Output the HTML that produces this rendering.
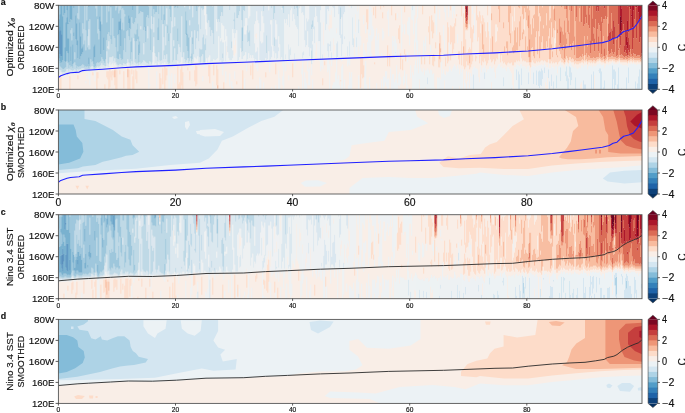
<!DOCTYPE html><html><head><meta charset="utf-8"><style>html,body{margin:0;padding:0;background:#fff;width:685px;height:413px;overflow:hidden}svg{display:block;will-change:transform}text{font-family:"Liberation Sans",sans-serif;fill:#111;stroke:#111;stroke-width:0.16px}</style></head><body>
<svg width="685" height="413" viewBox="0 0 685 413">
<defs>
<clipPath id="cp0"><rect x="58.4" y="5.3" width="583.6" height="84"/></clipPath>
<clipPath id="cp1"><rect x="58.4" y="110" width="583.6" height="84"/></clipPath>
<clipPath id="cp2"><rect x="58.4" y="214.7" width="583.6" height="84"/></clipPath>
<clipPath id="cp3"><rect x="58.4" y="319.4" width="583.6" height="84"/></clipPath>
</defs>
<g clip-path="url(#cp0)">
<rect x="58.4" y="5.3" width="583.6" height="84" fill="#f9eee7"/>
<g transform="translate(58.40 5.30) scale(0.99932 1)" shape-rendering="crispEdges">
<rect x="0" y="0" width="584" height="84" fill="#f9eee7"/>
<path transform="translate(.5 0)" stroke="#3480b9" stroke-width="1" fill="none" d="M0 26v17M1 21v28M2 25v26M3 29v22"/>
<path transform="translate(.5 0)" stroke="#529dc8" stroke-width="1" fill="none" d="M0 14v12M0 43v10M1 9v12M1 49v7M2 0v25M2 51v7M3 0v29M3 51v6M4 11v44M5 0v10M6 0v8M6 42v14M7 17v40M8 0v5M8 12v34M9 0v19M9 33v15M10 18v1M10 33v24M11 0v17M12 0v14M12 41v15M13 0v15M14 39v20M15 0v3M15 27v4M17 10v24M18 18v22M19 35v18M21 17v37M22 31v20M23 43v6M24 41v6M30 0v2M30 52v7M35 41v18M36 39v13M41 11v15M42 16v33M45 32v13M60 16v13M61 16v9M62 13v28M70 10v8M71 13v10M74 0v5M80 39v11M87 21v5M128 28v2"/>
<path transform="translate(.5 0)" stroke="#84bcd9" stroke-width="1" fill="none" d="M0 0v14M0 53v5M1 0v9M1 56v5M2 58v4M3 57v6M4 0v11M4 55v9M5 10v54M6 8v34M6 56v7M7 0v17M7 57v5M8 5v7M8 46v10M9 19v14M9 48v10M10 0v18M10 19v14M10 57v6M11 17v43M12 14v11M12 28v13M12 56v6M13 15v8M13 35v26M14 0v39M14 59v4M15 3v24M15 31v27M16 0v47M16 54v3M17 0v10M17 34v26M18 0v18M18 40v23M19 0v8M19 13v22M19 53v8M20 14v48M21 0v17M21 54v7M22 0v31M22 51v10M23 0v43M23 49v11M24 0v18M24 28v13M24 47v12M25 0v24M25 39v21M26 35v27M27 0v25M27 45v16M28 15v47M29 1v30M29 42v19M30 2v14M30 44v8M30 59v4M31 0v14M31 44v17M32 0v54M33 0v57M34 0v56M35 0v41M35 59v3M36 0v39M36 52v10M37 3v58M38 11v47M39 0v14M39 28v29M40 0v24M40 34v24M41 0v11M41 26v31M42 0v16M42 49v7M43 19v33M44 0v54M45 0v32M45 45v11M46 0v58M47 0v54M48 17v18M49 0v29M50 6v21M51 0v31M52 0v2M52 30v4M53 0v39M54 0v13M55 0v31M56 0v33M57 5v37M58 2v51M59 0v30M59 46v8M60 8v8M60 29v25M61 5v11M61 25v24M62 4v9M62 41v12M63 0v4M63 24v31M64 0v3M64 17v37M65 0v5M65 25v20M66 0v9M66 11v22M67 0v47M68 0v26M69 0v25M70 0v10M70 18v13M71 0v13M71 23v12M72 0v24M72 36v18M73 0v12M73 32v15M74 5v13M75 0v19M76 0v17M76 28v8M77 0v13M77 29v25M78 24v12M79 18v16M80 0v9M80 31v8M80 50v7M81 0v8M81 36v12M82 0v6M83 0v7M84 0v7M85 0v25M86 0v22M87 0v21M87 26v11M88 0v12M89 0v10M90 1v12M92 23v22M94 0v19M95 0v4M96 0v9M97 0v7M98 0v7M99 22v13M100 0v9M100 13v22M103 0v15M105 9v10M106 0v15M109 20v8M110 28v8M111 0v4M112 0v12M116 0v3M117 0v2M119 0v3M119 23v13M127 6v23M128 15v13M128 30v11M129 29v17M130 32v21M133 48v8M134 32v7M138 0v6M184 22v14"/>
<path transform="translate(.5 0)" stroke="#aed3e6" stroke-width="1" fill="none" d="M0 58v7M1 61v4M2 62v3M3 63v4M4 64v3M5 64v3M6 63v4M7 62v4M8 56v8M9 58v6M10 63v3M11 60v4M12 25v3M12 62v3M13 23v12M13 61v4M14 63v3M15 58v7M16 47v7M16 57v7M17 60v5M18 63v3M19 8v5M19 61v3M20 0v14M20 62v3M21 61v3M22 61v3M23 60v3M24 18v10M24 59v4M25 24v15M25 60v3M26 0v35M26 62v2M27 25v20M27 61v3M28 0v15M28 62v2M29 0v1M29 31v11M29 61v3M30 16v8M30 40v4M30 63v2M31 14v30M31 61v3M32 54v8M33 57v4M34 56v5M35 62v2M36 62v2M37 0v3M37 61v2M38 0v11M38 58v4M39 14v14M39 57v4M40 24v10M40 58v4M41 57v4M42 56v4M43 0v19M43 52v6M44 54v6M45 56v4M46 58v3M47 54v7M48 0v17M48 35v11M49 29v12M49 43v15M50 0v6M50 27v9M50 44v15M51 31v21M52 2v28M52 34v18M53 39v13M54 13v38M55 31v25M56 33v20M57 0v5M57 42v15M58 0v2M58 53v6M59 30v16M59 54v6M60 0v8M60 54v6M61 0v5M61 49v10M62 0v4M62 53v6M63 4v20M63 55v5M64 3v14M64 54v6M65 5v20M65 45v13M66 9v2M66 33v26M67 47v12M68 26v32M69 25v29M70 31v26M71 35v23M72 24v12M72 54v6M73 12v20M73 47v9M74 18v41M75 19v14M76 17v11M76 36v21M77 13v16M77 54v4M78 0v24M78 36v23M79 0v18M79 34v24M80 9v22M80 57v3M81 8v28M81 48v9M82 6v15M82 24v35M83 7v51M84 7v50M85 25v13M85 49v6M86 22v34M87 37v20M88 12v46M89 10v11M89 33v25M90 0v1M90 13v46M91 0v56M92 0v23M92 45v12M93 0v11M93 24v35M94 19v28M95 4v8M95 27v5M96 9v39M97 7v44M98 7v45M99 0v22M99 35v21M100 9v4M100 35v12M101 0v55M102 0v56M103 15v40M104 0v19M105 0v9M105 19v13M105 45v9M106 15v35M107 0v21M107 40v14M108 0v3M108 19v30M109 0v20M109 28v29M110 0v28M110 36v23M111 4v54M112 12v16M113 0v16M114 22v35M115 0v35M115 41v14M116 3v9M116 21v22M117 2v53M118 0v55M119 3v20M119 36v13M120 0v39M121 0v42M122 0v47M123 0v11M124 0v52M125 0v47M126 2v52M127 0v6M127 29v28M128 0v15M128 41v14M129 0v29M129 46v7M130 0v32M130 53v5M131 4v11M131 20v36M132 0v32M132 51v2M133 0v26M133 32v16M133 56v2M134 12v20M134 39v15M135 0v49M136 0v25M137 0v44M138 6v27M139 0v26M140 0v2M140 19v17M141 0v1M141 43v9M142 0v24M142 44v13M143 0v3M143 44v7M144 0v5M144 32v17M145 0v4M145 29v28M146 39v18M147 33v12M148 0v9M149 0v18M150 0v15M151 0v22M152 0v31M153 0v25M154 1v27M155 0v39M159 0v17M160 0v14M161 0v17M162 0v11M163 0v7M164 0v11M164 48v5M168 0v1M171 0v5M173 36v7M174 0v1M175 0v1M175 14v2M176 7v17M178 0v13M179 0v13M180 0v10M181 0v6M182 0v1M183 0v15M183 22v25M184 0v22M184 36v10M185 0v5M186 0v6M188 0v1M189 20v17M190 27v9M191 25v16M193 0v1M205 0v6M208 30v18M213 0v3M215 0v14M216 0v8M216 32v9M224 0v3M225 0v8M236 0v4M238 0v3M239 0v11M253 19v5M253 45v9M254 15v7M282 2v12"/>
<path transform="translate(.5 0)" stroke="#d4e6f1" stroke-width="1" fill="none" d="M0 65v5M1 65v4M2 65v2M3 67v2M4 67v3M5 67v3M6 67v2M7 66v2M8 64v4M9 64v3M10 66v2M11 64v3M12 65v2M13 65v2M14 66v1M15 65v2M16 64v3M17 65v2M18 66v2M19 64v2M20 65v2M21 64v2M22 64v2M23 63v2M24 63v2M25 63v2M26 64v2M27 64v2M28 64v2M29 64v1M30 24v16M30 65v1M31 64v2M32 62v2M33 61v3M34 61v3M35 64v1M36 64v1M37 63v2M38 62v2M39 61v2M40 62v2M41 61v3M42 60v3M43 58v4M44 60v3M45 60v3M46 61v2M47 61v2M48 46v15M49 41v2M49 58v4M50 36v8M50 59v3M51 52v5M52 52v8M53 52v7M54 51v7M55 56v4M56 53v5M57 57v3M58 59v2M59 60v2M60 60v2M61 59v2M62 59v3M63 60v2M64 60v2M65 58v3M66 59v2M67 59v2M68 58v3M69 54v4M70 57v3M71 58v3M72 60v2M73 56v4M74 59v2M75 33v27M76 57v3M77 58v3M78 59v2M79 58v3M80 60v1M81 57v3M82 21v3M82 59v2M83 58v3M84 57v3M85 38v11M85 55v5M86 56v4M87 57v3M88 58v3M89 21v12M89 58v3M90 59v2M91 56v4M92 57v3M93 11v13M93 59v2M94 47v10M95 12v15M95 32v9M96 48v11M97 51v7M98 52v8M99 56v4M100 47v10M101 55v4M102 56v4M103 55v4M104 19v39M105 32v13M105 54v5M106 50v7M107 21v19M107 54v5M108 3v16M108 49v10M109 57v3M110 59v2M111 58v2M112 28v31M113 16v43M114 0v22M114 57v3M115 35v6M115 55v4M116 12v9M116 43v16M117 55v4M118 55v4M119 49v7M120 39v19M121 42v16M122 47v10M123 11v41M124 52v6M125 47v11M126 0v2M126 54v4M127 57v2M128 55v3M129 53v5M130 58v1M131 0v4M131 15v5M131 56v2M132 32v19M132 53v5M133 26v6M133 58v2M134 0v12M134 54v4M135 49v8M136 25v27M137 44v9M138 33v21M139 26v25M140 2v17M140 36v21M141 1v42M141 52v6M142 24v20M142 57v2M143 3v41M143 51v6M144 5v27M144 49v9M145 4v25M145 57v2M146 10v29M146 57v2M147 24v9M147 45v12M148 9v8M148 30v23M149 18v39M150 15v37M151 22v28M152 31v26M153 25v31M154 0v1M154 28v28M155 39v15M156 0v55M157 0v55M158 0v14M158 26v28M159 17v36M160 14v17M161 17v39M162 11v22M162 36v19M163 7v11M163 34v23M164 11v9M164 37v11M164 53v5M165 0v21M165 37v19M166 0v35M167 0v24M167 36v20M168 1v30M169 0v47M170 0v53M171 5v50M172 0v55M173 0v36M173 43v12M174 1v23M174 45v8M175 1v13M175 16v12M176 0v7M176 24v9M177 0v28M178 13v12M179 13v43M180 10v45M181 6v46M182 1v42M183 15v7M183 47v7M184 46v8M185 5v46M186 6v15M186 29v21M187 0v13M187 29v18M188 1v12M188 25v31M189 0v20M189 37v17M190 13v14M190 36v12M191 11v14M191 41v12M192 0v50M193 1v52M194 0v50M195 0v53M196 0v19M196 38v18M197 0v16M197 47v7M198 0v6M198 46v10M199 0v15M199 42v14M200 0v18M201 0v55M202 0v26M202 36v19M203 0v6M203 38v18M204 0v11M204 37v18M205 6v12M205 27v28M206 0v55M207 1v52M208 0v30M208 48v7M209 0v54M210 5v41M211 0v56M212 0v15M212 19v35M213 3v12M213 41v11M214 0v40M215 14v32M216 8v24M216 41v12M217 0v15M217 34v14M218 0v19M218 34v20M219 0v53M220 0v31M220 42v4M221 0v39M222 0v54M223 0v3M223 4v48M224 3v52M225 8v48M226 0v14M227 0v18M227 49v5M228 0v14M229 0v20M230 0v9M230 39v15M231 0v22M231 44v11M232 0v5M232 42v8M233 0v3M234 0v16M235 0v9M236 4v10M236 48v6M237 0v20M238 3v19M239 11v13M240 0v41M241 0v3M242 0v1M243 0v8M244 0v7M244 47v6M245 0v10M245 46v4M246 0v35M247 25v17M248 13v27M249 16v10M250 14v28M251 0v51M252 0v43M253 0v19M253 24v21M253 54v5M254 0v15M254 22v14M254 39v15M255 0v24M256 0v12M256 21v17M257 0v2M258 0v11M259 0v17M260 0v36M261 0v36M262 0v5M262 17v37M264 49v5M267 0v25M268 0v19M269 0v4M269 38v8M270 0v6M270 38v14M271 0v1M271 39v2M272 0v1M272 36v10M273 47v6M274 0v2M275 0v3M276 0v12M278 38v16M279 36v16M280 0v9M281 0v30M282 0v2M282 14v19M283 0v12M283 29v22M284 0v39M285 0v9M286 0v7M286 31v3M289 41v10M291 36v15M293 0v3M294 12v28M295 33v9M298 32v10M300 14v14M337 47v1M354 0v5M369 72v7M415 69v15M426 67v7M445 72v9M453 83v1M458 64v11M460 66v18M461 69v15M463 63v17M470 67v12M475 67v12M478 65v15M480 66v15M481 65v18M482 66v14M483 63v18M484 65v9M486 62v6M490 64v9M491 76v8M493 69v12M495 76v8M498 70v13M502 62v14M507 66v5M508 61v15M509 70v14M510 73v11M511 61v11M512 62v18M513 67v8M517 72v12M525 75v9M526 79v5M527 79v5M533 69v15M535 66v18M540 65v1M541 63v5M542 63v21M543 66v18M545 82v2M546 75v9M554 60v24M555 64v10M556 64v20M557 66v14M559 79v5M560 62v22M563 83v1M568 72v12M570 62v16M577 76v8M578 83v1M579 78v6M580 71v13M581 64v20M583 65v19"/>
<path transform="translate(.5 0)" stroke="#ecf2f5" stroke-width="1" fill="none" d="M0 70v3M1 69v2M2 67v3M3 69v2M4 70v1M5 70v2M6 69v2M7 68v2M8 68v2M9 67v2M10 68v1M11 67v1M12 67v2M13 67v1M14 67v2M15 67v2M16 67v1M17 67v1M18 68v1M19 66v2M20 67v1M21 66v2M22 66v1M23 65v2M24 65v2M25 65v2M26 66v1M27 66v2M27 76v2M28 66v3M28 70v4M29 65v2M30 66v8M31 66v14M32 64v2M33 64v1M34 64v1M35 65v3M36 65v11M37 65v1M37 81v3M38 64v1M39 63v2M40 64v1M41 64v1M42 63v2M43 62v2M44 63v1M45 63v2M46 63v2M47 63v2M48 61v3M49 62v2M50 62v2M51 57v4M52 60v3M53 59v4M54 58v3M55 60v3M56 58v2M57 60v2M58 61v2M59 62v2M60 62v2M61 61v2M62 62v1M63 62v1M64 62v1M65 61v2M66 61v2M67 61v2M68 61v2M69 58v3M70 60v2M71 61v1M72 62v1M73 60v2M74 61v2M75 60v2M76 60v2M77 61v1M78 61v1M79 61v2M80 61v2M81 60v2M82 61v2M83 61v1M84 60v2M85 60v2M86 60v2M87 60v2M88 61v2M89 61v2M90 61v23M91 60v2M91 79v2M92 60v2M93 61v3M94 57v4M95 41v20M96 59v2M97 58v3M98 60v2M98 66v18M99 60v2M100 57v4M101 59v3M102 60v2M103 59v2M104 58v3M105 59v2M106 57v3M107 59v2M108 59v1M109 60v1M110 61v23M111 60v3M111 70v14M112 59v2M113 59v2M113 68v16M114 60v2M115 59v3M116 59v2M116 69v9M117 59v2M118 59v2M119 56v3M120 58v3M121 58v3M122 57v3M123 52v6M124 58v2M125 58v3M125 71v4M126 58v2M127 59v1M128 58v2M129 58v2M130 59v2M131 58v2M132 58v2M133 60v4M134 58v2M135 57v3M136 52v6M137 53v4M138 54v4M139 51v8M140 57v2M141 58v1M141 82v2M142 59v2M143 57v2M144 58v2M144 71v5M145 59v3M146 0v10M146 59v3M147 0v24M147 57v2M148 17v13M148 53v5M149 57v3M150 52v6M151 50v7M152 57v2M153 56v2M154 56v2M154 76v8M155 54v3M156 55v3M156 81v3M157 55v3M158 14v12M158 54v3M159 53v4M160 31v27M161 56v3M162 33v3M162 55v3M163 18v16M163 57v2M164 20v17M164 58v12M165 21v16M165 56v3M166 35v23M167 24v12M167 56v3M167 66v12M168 31v10M168 50v7M169 47v11M170 53v5M171 55v3M171 68v13M172 55v3M173 55v3M173 76v7M174 24v21M174 53v5M174 81v3M175 28v7M175 50v7M176 33v7M176 51v7M176 66v8M177 28v7M177 48v10M178 25v33M179 56v3M180 55v2M181 52v5M182 43v13M183 54v3M184 54v4M185 51v7M186 21v8M186 50v7M186 73v11M187 13v16M187 47v10M188 13v12M188 56v10M189 54v3M190 0v13M190 48v8M191 0v11M191 53v4M192 50v6M193 53v4M194 50v5M195 53v4M196 19v19M196 56v4M197 16v13M197 32v15M197 54v4M198 6v22M198 34v12M198 56v7M198 80v4M199 15v27M199 56v10M200 18v39M201 55v3M201 72v12M202 26v10M202 55v3M202 74v10M203 6v32M203 56v2M204 11v26M204 55v3M205 18v9M205 55v2M205 77v7M206 55v2M207 0v1M207 53v3M208 55v4M209 54v3M210 0v5M210 46v11M211 56v11M212 15v4M212 54v4M213 15v26M213 52v5M213 82v2M214 40v15M215 46v10M216 53v4M217 15v19M217 48v7M217 80v4M218 19v15M218 54v2M219 53v4M220 31v11M220 46v10M220 65v19M221 39v16M221 73v11M222 54v3M223 3v1M223 52v4M224 55v6M224 71v9M225 56v28M226 14v42M227 18v31M227 54v12M228 14v43M229 20v36M230 9v30M230 54v5M230 70v5M231 22v22M231 55v6M232 5v37M232 50v6M233 3v52M234 16v38M235 9v45M236 14v34M236 54v9M237 20v38M238 22v32M239 24v30M240 41v14M240 81v3M241 3v53M242 1v54M243 8v47M243 63v6M244 7v40M244 53v31M245 10v36M245 50v6M246 35v21M246 67v17M247 0v25M247 42v14M247 73v11M248 0v13M248 40v15M248 78v6M249 0v16M249 26v40M250 0v14M250 42v14M250 64v16M251 51v5M251 62v18M252 43v12M253 59v11M254 36v3M254 54v4M254 74v10M255 24v30M256 12v9M256 38v18M257 2v44M258 11v26M259 17v38M260 36v19M261 36v20M262 5v12M262 54v12M263 0v61M264 0v49M264 54v10M265 0v17M265 40v14M266 0v48M267 25v28M268 19v35M269 4v34M269 46v21M270 6v14M270 24v14M270 52v13M271 1v8M271 26v13M271 41v14M271 59v25M272 1v9M272 23v13M272 46v9M273 0v5M273 23v24M273 53v8M274 2v53M274 80v4M275 3v30M275 50v2M275 77v7M276 12v28M276 45v8M276 77v7M277 0v53M277 67v17M278 0v23M278 28v10M278 54v30M279 0v36M279 52v3M279 74v10M280 9v44M280 70v14M281 30v24M281 80v4M282 33v21M283 12v17M283 51v5M283 61v23M284 39v16M284 59v25M285 9v45M286 7v24M286 34v19M286 74v10M287 0v48M288 0v52M289 0v41M289 51v10M290 1v57M290 80v4M291 2v34M291 51v9M291 67v17M292 0v53M292 72v12M293 3v50M293 67v17M294 0v12M294 40v12M295 0v33M295 42v10M296 0v29M297 0v9M297 27v26M298 0v32M298 42v10M299 6v48M300 0v14M300 28v13M300 70v14M301 16v32M302 31v9M303 82v2M305 0v1M305 10v9M305 38v14M306 45v7M306 65v19M307 20v8M307 47v6M307 56v28M308 33v1M308 79v5M309 37v14M310 19v34M311 0v28M311 30v17M311 72v12M312 2v22M312 30v22M313 7v29M313 48v3M314 21v13M315 24v7M315 83v1M317 31v20M318 23v29M318 78v6M319 35v16M320 28v26M323 48v3M323 74v10M324 23v12M325 26v7M325 71v13M326 72v9M327 66v11M328 66v15M329 6v8M329 74v10M330 4v27M330 73v11M332 63v11M333 74v10M334 31v19M334 69v15M335 36v5M335 69v15M336 31v20M336 77v7M337 34v13M337 48v6M337 74v10M338 38v13M338 60v24M339 8v5M339 78v6M340 44v6M340 69v11M341 67v14M342 72v7M343 2v42M344 19v8M345 71v9M346 19v10M346 65v13M348 69v15M349 16v13M349 47v10M349 80v4M350 12v18M351 12v28M352 60v13M353 0v14M354 5v10M354 67v17M355 0v29M355 70v14M356 0v10M356 34v16M356 60v24M357 18v19M357 55v29M358 12v33M358 63v21M359 0v13M359 35v49M360 68v16M361 46v28M362 63v21M363 66v18M364 67v17M365 35v16M365 63v21M366 38v3M366 70v14M367 31v15M367 65v17M368 65v19M369 63v9M369 79v5M370 65v19M371 68v16M372 40v7M372 64v20M373 65v19M374 69v15M375 68v16M376 82v2M377 9v11M378 0v30M379 72v12M380 73v11M381 4v10M381 72v12M382 74v10M383 56v28M384 68v16M385 20v15M385 64v20M386 0v7M386 34v11M386 69v6M387 3v12M387 70v14M388 66v18M389 67v17M390 0v12M390 66v18M391 38v11M391 61v23M392 64v20M393 66v18M394 0v13M394 63v18M395 0v6M395 61v23M396 0v9M396 59v25M397 61v23M398 64v20M399 29v9M399 60v24M400 63v21M401 69v12M402 63v21M403 67v17M404 64v20M406 74v10M407 78v6M408 66v9M409 76v8M410 67v17M411 83v1M412 68v16M413 71v13M414 0v9M414 64v20M415 62v7M416 8v26M416 61v23M417 63v21M418 63v21M419 64v20M420 72v12M421 77v7M422 60v24M423 67v17M424 63v21M425 0v2M425 62v22M426 60v7M426 74v10M427 63v21M428 67v17M429 64v20M430 64v20M431 17v14M431 61v23M432 61v23M433 63v14M434 63v21M435 61v23M436 67v17M437 73v11M438 63v21M439 61v23M440 59v25M441 59v25M442 62v22M443 61v23M444 63v21M445 63v9M445 81v3M446 62v22M447 64v20M448 66v18M449 62v22M450 62v22M451 64v20M452 66v18M453 68v15M454 80v4M456 62v22M457 62v22M458 59v5M458 75v9M459 60v24M460 60v6M461 61v8M462 59v25M463 59v4M463 80v4M464 61v23M465 61v23M466 61v23M467 62v22M468 64v20M469 61v23M470 61v6M470 79v5M471 66v18M472 74v10M473 62v22M474 60v24M475 61v6M475 79v5M476 61v23M477 62v22M478 60v5M478 80v4M479 61v23M480 60v6M480 81v3M481 60v5M481 83v1M482 60v6M482 80v4M483 59v4M483 81v3M484 60v5M484 74v10M485 60v24M486 58v4M486 68v16M487 60v17M487 83v1M488 62v18M489 62v10M490 58v6M490 73v11M491 63v13M492 63v21M493 60v9M493 81v3M494 62v22M495 62v14M496 64v20M497 61v23M498 61v9M498 83v1M499 68v16M500 61v23M501 60v24M502 58v4M502 76v8M503 60v24M504 60v24M505 62v22M506 63v21M507 60v6M507 71v13M508 58v3M508 76v8M509 60v10M510 61v12M511 58v3M511 72v12M512 58v4M512 80v4M513 60v7M513 75v9M514 61v23M515 62v22M516 63v21M517 61v11M518 63v21M519 64v20M520 63v21M521 62v22M522 63v16M523 60v17M524 60v24M525 62v13M526 60v19M527 60v19M528 59v25M529 64v20M530 61v23M531 60v24M532 61v23M533 60v9M534 62v22M535 60v6M536 61v9M537 61v23M538 60v24M539 59v25M540 59v6M540 66v18M541 58v5M541 68v16M542 59v4M543 60v6M544 60v24M545 59v23M546 63v12M547 61v23M548 59v25M549 59v25M550 60v24M551 59v25M552 59v25M553 58v26M554 57v3M555 58v6M555 74v10M556 59v5M557 59v7M557 80v4M558 59v25M559 59v20M560 58v4M561 57v27M562 59v25M563 59v24M564 60v24M565 60v24M566 60v24M567 60v24M568 60v12M569 61v23M570 58v4M570 78v6M571 59v25M572 59v25M573 58v26M574 59v25M575 58v26M576 59v25M577 59v17M578 60v23M579 59v19M580 59v12M581 59v5M582 60v24M583 59v6"/>
<path transform="translate(.5 0)" stroke="#fddcc9" stroke-width="1" fill="none" d="M1 73v11M2 71v13M11 71v13M19 70v4M34 67v3M38 67v17M39 67v6M46 79v5M48 66v6M49 66v8M50 66v18M51 64v18M52 66v6M53 66v9M54 65v5M55 66v6M56 63v2M56 72v8M57 64v20M58 65v19M61 65v4M65 66v17M69 62v2M69 72v12M70 64v20M71 65v19M73 64v5M74 71v13M75 65v19M77 64v10M78 66v12M101 68v16M102 73v10M104 63v16M106 61v23M107 63v12M108 63v7M119 61v23M120 79v5M121 77v7M122 64v20M123 61v19M124 67v17M129 62v3M131 66v9M136 65v11M137 60v21M138 61v18M150 60v11M151 60v18M155 59v11M158 60v20M159 64v16M159 83v1M165 77v7M178 76v3M184 65v19M192 60v10M194 58v16M207 67v5M217 58v11M234 58v14M264 73v7M266 56v4M282 75v1M302 52v31M303 53v16M304 53v20M305 60v12M308 4v13M309 4v20M315 2v8M316 57v2M317 1v12M322 0v4M324 7v6M325 0v2M329 40v21M331 49v12M333 0v10M337 8v7M340 23v11M341 20v18M342 48v16M344 54v11M346 1v6M346 44v5M347 49v7M363 51v8M364 0v9M366 52v7M370 21v6M371 11v28M371 50v9M373 10v16M374 15v18M374 50v10M375 17v11M375 49v12M376 0v8M376 51v5M377 37v6M380 51v11M381 27v11M381 54v8M382 30v13M382 47v10M387 52v9M389 17v41M390 22v15M390 51v5M392 0v5M392 20v19M392 49v6M393 21v16M394 22v26M395 21v23M396 18v20M397 13v8M398 9v2M400 46v8M401 46v13M403 0v11M403 36v24M405 8v33M405 49v12M406 18v46M407 22v3M407 34v28M408 24v1M408 48v8M409 23v2M409 47v13M410 44v16M411 0v19M411 42v8M411 58v6M412 0v33M412 44v18M413 22v37M414 24v13M414 50v6M415 20v8M417 50v6M418 0v15M418 51v2M419 10v26M420 12v20M421 6v52M422 10v8M422 28v23M423 16v44M424 10v9M424 44v12M425 13v26M425 49v8M426 17v36M427 26v30M428 32v28M429 0v10M429 17v41M430 26v29M432 33v21M433 0v8M433 15v42M434 0v31M434 47v9M435 0v54M436 0v59M437 0v19M437 37v19M438 0v19M438 36v17M439 0v22M439 26v28M440 4v44M441 17v29M442 0v57M443 0v50M444 0v56M445 0v17M445 23v35M446 0v41M446 47v10M447 0v59M448 0v36M448 43v17M449 0v36M449 50v8M450 17v40M451 30v28M452 8v20M452 38v20M453 0v57M454 0v11M454 26v16M454 46v14M455 0v40M455 48v12M456 0v2M456 16v9M456 47v10M457 0v22M457 46v11M458 0v37M458 45v10M459 0v22M459 45v11M460 2v53M461 3v13M461 41v15M462 0v11M462 35v11M463 1v52M464 9v18M464 34v22M465 14v10M465 29v26M466 3v10M466 25v31M467 7v24M467 46v10M468 15v42M469 0v3M469 21v20M469 45v12M470 52v5M471 0v5M471 57v3M472 0v19M472 57v5M473 0v29M473 43v14M474 0v13M474 42v13M475 0v10M475 13v10M475 51v6M476 0v9M476 53v5M477 32v26M478 26v30M479 49v8M480 0v11M480 26v30M481 8v23M481 53v4M482 11v5M482 45v11M483 37v18M484 0v2M484 31v24M485 20v3M485 45v11M486 44v11M487 44v12M488 8v12M488 36v21M489 42v15M490 31v23M491 1v14M491 23v10M491 54v4M492 0v13M492 54v4M493 17v22M493 43v13M494 32v14M494 52v6M495 0v4M495 23v34M496 25v8M496 43v15M497 16v9M497 38v19M498 50v7M499 43v7M499 52v7M500 42v15M501 46v10M502 49v6M503 53v4M504 54v3M505 55v3M506 57v2M507 54v3M508 51v4M509 53v4M510 55v3M511 52v3M512 52v4M513 54v3M514 53v4M515 54v3M516 56v3M517 55v3M518 56v3M519 56v3M520 56v3M521 56v2M522 56v2M523 55v2M524 54v3M525 55v3M526 50v6M527 55v2M528 54v2M529 56v3M530 55v2M531 55v2M532 55v3M533 55v2M534 56v2M535 55v2M536 55v3M537 56v2M538 55v2M539 54v2M540 54v2M541 53v2M542 54v2M543 55v2M544 55v2M545 54v3M546 56v2M547 55v3M548 54v2M549 52v4M550 55v2M551 54v2M552 54v2M553 54v2M554 54v1M555 54v2M556 54v2M557 55v2M558 55v2M559 55v1M560 54v2M561 53v2M562 55v2M563 55v2M564 55v2M565 55v2M566 55v2M567 55v2M568 55v2M569 56v2M570 55v1M571 55v2M572 54v2M573 54v2M574 55v2M575 54v2M576 55v2M577 55v2M578 55v2M579 55v1M580 55v2M581 55v2M582 56v1M583 55v2"/>
<path transform="translate(.5 0)" stroke="#f8bb9e" stroke-width="1" fill="none" d="M56 65v7M69 64v8M159 80v3M381 38v16M382 43v4M405 41v8M407 18v4M408 22v2M409 19v4M411 50v8M424 19v25M425 39v10M433 8v7M434 31v16M440 0v4M441 0v17M445 17v6M446 41v6M448 36v7M449 36v14M450 0v17M451 0v30M452 0v8M452 28v10M454 42v4M455 40v8M456 25v22M457 22v24M458 37v8M459 22v23M460 0v2M461 0v3M461 16v25M462 11v24M463 0v1M464 0v9M464 27v7M465 0v14M465 24v5M466 0v3M467 0v7M467 31v15M468 0v15M469 3v18M469 41v4M470 0v10M470 23v29M471 5v29M471 52v5M472 19v38M473 29v14M474 13v29M475 10v3M475 23v28M476 9v44M477 0v32M478 0v26M479 0v49M480 11v15M481 0v8M481 31v22M482 0v11M482 16v29M483 0v37M484 2v29M485 0v20M485 23v22M486 0v44M487 0v44M488 0v8M488 20v16M489 0v42M490 0v31M491 0v1M491 15v8M491 33v21M492 13v41M493 0v17M493 39v4M494 0v32M494 46v6M495 4v19M496 0v3M496 15v10M497 0v16M498 0v50M499 0v24M499 28v15M499 50v2M500 0v42M501 0v13M501 40v6M502 0v21M502 42v7M503 2v20M503 43v10M504 0v26M504 45v9M505 0v29M505 40v15M506 4v11M506 53v4M507 4v23M507 44v10M508 13v20M508 39v12M509 27v26M510 0v15M510 29v26M511 5v22M511 42v10M512 39v13M513 45v9M514 38v15M515 36v18M516 0v31M516 50v6M517 16v39M518 53v3M519 53v3M520 53v3M521 3v13M521 52v4M522 51v5M523 52v3M524 49v5M525 51v4M526 31v19M527 50v5M528 48v6M529 31v3M529 40v1M529 52v4M530 50v5M531 51v4M532 53v2M533 53v2M534 53v3M535 52v3M536 53v2M537 53v3M538 52v3M539 52v2M540 52v2M541 48v5M542 52v2M543 53v2M544 52v3M545 31v6M545 51v3M546 54v2M547 53v2M548 50v4M549 12v19M549 37v15M550 52v3M551 52v2M552 52v2M553 51v3M554 51v3M555 52v2M556 52v2M557 52v3M558 53v2M559 53v2M560 52v2M561 50v3M562 53v2M563 53v2M564 53v2M565 54v1M566 54v1M567 53v2M568 54v1M569 54v2M570 53v2M571 53v2M572 52v2M573 52v2M574 53v2M575 52v2M576 53v2M577 53v2M578 53v2M579 53v2M580 53v2M581 53v2M582 54v2M583 53v2"/>
<path transform="translate(.5 0)" stroke="#ee9677" stroke-width="1" fill="none" d="M407 13v5M408 19v3M409 15v4M470 10v13M471 34v18M496 3v12M499 24v4M501 13v27M502 21v5M502 38v4M503 0v2M503 22v21M504 26v19M505 29v11M506 0v4M506 15v38M507 0v4M507 27v17M508 4v9M508 33v6M509 0v27M510 15v14M511 0v5M511 27v15M512 0v39M513 6v39M514 0v38M515 0v36M516 31v19M517 0v16M518 12v41M519 0v53M520 0v53M521 0v3M521 16v36M522 0v51M523 17v35M524 0v49M525 21v30M526 19v12M527 12v38M528 0v9M528 18v30M529 0v31M529 34v6M529 41v11M530 20v30M531 3v6M531 23v13M531 37v14M532 1v34M532 48v5M533 39v14M534 0v13M534 36v17M535 22v6M535 38v14M536 23v10M536 46v7M537 14v39M538 38v14M539 24v28M540 18v13M540 46v6M541 20v28M542 26v26M543 12v4M543 49v4M544 18v34M545 14v17M545 37v14M546 14v29M546 51v3M547 11v42M548 14v36M549 0v12M549 31v6M550 0v18M550 46v6M551 49v3M552 48v4M553 8v15M553 44v7M554 47v4M555 49v3M556 47v5M557 33v19M558 33v1M558 51v2M559 50v3M560 31v12M560 45v7M561 43v7M562 50v3M563 49v4M564 50v3M565 51v3M566 52v2M567 51v2M568 51v3M569 52v2M570 50v3M571 51v2M572 44v8M573 49v3M574 51v2M575 48v4M576 49v4M577 49v4M578 51v2M579 50v3M580 50v3M581 50v3M582 52v2M583 51v2"/>
<path transform="translate(.5 0)" stroke="#db6b55" stroke-width="1" fill="none" d="M407 4v9M408 16v3M409 10v5M502 26v12M508 0v4M513 0v6M518 0v12M523 0v17M525 0v21M526 0v19M527 0v12M528 9v9M530 0v20M531 0v3M531 9v14M531 36v1M532 0v1M532 35v13M533 0v39M534 13v23M535 0v22M535 28v10M536 0v23M536 33v13M537 0v14M538 6v32M539 2v22M540 6v12M540 31v15M541 0v20M542 1v25M543 0v12M543 16v33M544 0v18M545 1v13M546 3v11M546 43v8M547 0v11M548 0v14M550 18v12M550 35v11M551 0v27M551 36v13M552 0v26M552 34v14M553 0v8M553 23v21M554 0v25M554 34v13M555 0v15M555 39v10M556 0v21M556 33v14M557 0v33M558 0v33M558 34v17M559 0v50M560 19v12M560 43v2M561 32v11M562 40v10M563 30v19M564 25v25M565 19v32M566 25v15M566 47v5M567 45v6M568 48v3M569 50v2M570 27v5M570 45v5M571 2v37M571 47v4M572 24v20M573 24v25M574 44v7M575 33v15M576 14v35M577 2v47M578 33v18M579 18v32M580 16v34M581 37v13M582 32v20M583 48v3"/>
<path transform="translate(.5 0)" stroke="#c53e3d" stroke-width="1" fill="none" d="M407 0v4M408 12v4M409 0v10M538 0v6M539 0v2M540 0v6M542 0v1M545 0v1M546 0v3M550 30v5M551 27v9M552 26v8M554 25v9M555 15v24M556 21v12M560 0v19M561 0v32M562 30v10M563 0v3M563 26v4M564 0v25M565 0v19M566 0v25M566 40v7M567 0v45M568 0v31M568 40v8M569 1v14M569 26v10M569 43v7M570 0v27M570 32v13M571 0v2M571 39v8M572 4v20M573 0v9M573 11v13M574 22v22M575 5v28M576 0v14M577 0v2M578 2v31M579 1v17M580 7v9M581 14v23M582 12v20M583 11v37"/>
<path transform="translate(.5 0)" stroke="#ab162a" stroke-width="1" fill="none" d="M408 7v5M562 0v11M562 25v5M563 3v12M563 17v9M568 31v9M569 0v1M569 15v11M569 36v7M572 0v4M573 9v2M574 0v22M575 0v5M578 0v2M579 0v1M580 0v7M581 0v14M582 0v12M583 0v11"/>
<path transform="translate(.5 0)" stroke="#7c0722" stroke-width="1" fill="none" d="M408 1v6M562 11v14M563 15v2"/>
<path transform="translate(.5 0)" stroke="#67001f" stroke-width="1" fill="none" d="M408 0v1"/>
</g>
<polyline points="58.4,77.5 60.8,75.7 67.1,73.6 70.5,72.8 79.2,72.1 82.6,70.6 86,70.3 102.7,69.2 121.7,67.8 136,66.9 175.3,65.4 206,63.6 243.8,62.2 265.7,61.4 287.6,60.5 350,58.1 388.8,56.6 410.7,56 443.5,55.2 465.4,54 495,52.9 528.2,51 552.3,48.8 568.1,46.9 581.3,45.3 594.6,43.5 602.4,42.6 609.2,40.8 613.1,38.5 617,37.5 619.9,34.6 623.7,31.5 628.6,30.3 633.4,28.3 637.3,23.5 641.6,16.7 643,14.3" fill="none" stroke="#2020ff" stroke-width="1.1" stroke-linejoin="round"/>
</g>
<rect x="58.4" y="5.3" width="583.6" height="84" fill="none" stroke="#555" stroke-width="0.9"/>
<line x1="55.6" x2="58.4" y1="5.3" y2="5.3" stroke="#333" stroke-width="0.8"/>
<text x="54.4" y="8.9" font-size="9.9" text-anchor="end" textLength="20.4" lengthAdjust="spacingAndGlyphs">80W</text>
<line x1="55.6" x2="58.4" y1="26.3" y2="26.3" stroke="#333" stroke-width="0.8"/>
<text x="54.4" y="29.9" font-size="9.9" text-anchor="end" textLength="25.7" lengthAdjust="spacingAndGlyphs">120W</text>
<line x1="55.6" x2="58.4" y1="47.3" y2="47.3" stroke="#333" stroke-width="0.8"/>
<text x="54.4" y="50.9" font-size="9.9" text-anchor="end" textLength="25.7" lengthAdjust="spacingAndGlyphs">160W</text>
<line x1="55.6" x2="58.4" y1="68.3" y2="68.3" stroke="#333" stroke-width="0.8"/>
<text x="54.4" y="71.9" font-size="9.9" text-anchor="end" textLength="22.5" lengthAdjust="spacingAndGlyphs">160E</text>
<line x1="55.6" x2="58.4" y1="89.3" y2="89.3" stroke="#333" stroke-width="0.8"/>
<text x="54.4" y="92.9" font-size="9.9" text-anchor="end" textLength="22.5" lengthAdjust="spacingAndGlyphs">120E</text>
<line x1="58.4" x2="58.4" y1="89.3" y2="91.5" stroke="#333" stroke-width="0.8"/>
<text x="58.4" y="98.1" font-size="6.6" text-anchor="middle">0</text>
<line x1="175.5" x2="175.5" y1="89.3" y2="91.5" stroke="#333" stroke-width="0.8"/>
<text x="175.5" y="98.1" font-size="6.6" text-anchor="middle">20</text>
<line x1="292.6" x2="292.6" y1="89.3" y2="91.5" stroke="#333" stroke-width="0.8"/>
<text x="292.6" y="98.1" font-size="6.6" text-anchor="middle">40</text>
<line x1="409.7" x2="409.7" y1="89.3" y2="91.5" stroke="#333" stroke-width="0.8"/>
<text x="409.7" y="98.1" font-size="6.6" text-anchor="middle">60</text>
<line x1="526.8" x2="526.8" y1="89.3" y2="91.5" stroke="#333" stroke-width="0.8"/>
<text x="526.8" y="98.1" font-size="6.6" text-anchor="middle">80</text>
<text x="0.7" y="5" font-size="8.9" font-weight="bold">a</text>
<text transform="translate(13.4,47.3) rotate(-90)" font-size="9.5" text-anchor="middle" textLength="58.6" lengthAdjust="spacingAndGlyphs"><tspan>Optimized </tspan><tspan font-style="italic">χ</tspan><tspan font-size="6.2" font-style="italic" dy="1.8">θ</tspan></text>
<text transform="translate(24.3,47.6) rotate(-90)" font-size="9.5" text-anchor="middle" textLength="44.3" lengthAdjust="spacingAndGlyphs">ORDERED</text>
<rect x="648.1" y="5.3" width="9.6" height="6.2" fill="#7c0722"/>
<rect x="648.1" y="10.5" width="9.6" height="6.2" fill="#ab162a"/>
<rect x="648.1" y="15.8" width="9.6" height="6.2" fill="#c53e3d"/>
<rect x="648.1" y="21" width="9.6" height="6.2" fill="#db6b55"/>
<rect x="648.1" y="26.3" width="9.6" height="6.2" fill="#ee9677"/>
<rect x="648.1" y="31.5" width="9.6" height="6.2" fill="#f8bb9e"/>
<rect x="648.1" y="36.8" width="9.6" height="6.2" fill="#fddcc9"/>
<rect x="648.1" y="42" width="9.6" height="6.2" fill="#f9eee7"/>
<rect x="648.1" y="47.3" width="9.6" height="6.2" fill="#ecf2f5"/>
<rect x="648.1" y="52.5" width="9.6" height="6.2" fill="#d4e6f1"/>
<rect x="648.1" y="57.8" width="9.6" height="6.2" fill="#aed3e6"/>
<rect x="648.1" y="63" width="9.6" height="6.2" fill="#84bcd9"/>
<rect x="648.1" y="68.3" width="9.6" height="6.2" fill="#529dc8"/>
<rect x="648.1" y="73.5" width="9.6" height="6.2" fill="#3480b9"/>
<rect x="648.1" y="78.8" width="9.6" height="6.2" fill="#1f63a8"/>
<rect x="648.1" y="84" width="9.6" height="5.2" fill="#0e4179"/>
<polygon points="648.1,5.3 652.9,1.1 657.7,5.3" fill="#67001f"/>
<polygon points="648.1,89.3 652.9,93.5 657.7,89.3" fill="#053061"/>
<polygon points="648.1,5.3 652.9,1.1 657.7,5.3 657.7,89.3 652.9,93.5 648.1,89.3" fill="none" stroke="#444" stroke-width="0.6"/>
<line x1="657.7" x2="659.9" y1="5.3" y2="5.3" stroke="#333" stroke-width="0.8"/>
<text x="661.9" y="9" font-size="10.2" textLength="5.1" lengthAdjust="spacingAndGlyphs">4</text>
<line x1="657.7" x2="659.9" y1="26.3" y2="26.3" stroke="#333" stroke-width="0.8"/>
<text x="661.9" y="30" font-size="10.2" textLength="5.1" lengthAdjust="spacingAndGlyphs">2</text>
<line x1="657.7" x2="659.9" y1="47.3" y2="47.3" stroke="#333" stroke-width="0.8"/>
<text x="661.9" y="51" font-size="10.2" textLength="5.1" lengthAdjust="spacingAndGlyphs">0</text>
<line x1="657.7" x2="659.9" y1="68.3" y2="68.3" stroke="#333" stroke-width="0.8"/>
<text x="662.3" y="72" font-size="10.2" textLength="12.2" lengthAdjust="spacingAndGlyphs">−2</text>
<line x1="657.7" x2="659.9" y1="89.3" y2="89.3" stroke="#333" stroke-width="0.8"/>
<text x="662.3" y="93" font-size="10.2" textLength="12.2" lengthAdjust="spacingAndGlyphs">−4</text>
<text transform="translate(685.6,47.7) rotate(-90)" font-size="10.2" text-anchor="middle">C</text>
<g clip-path="url(#cp1)">
<rect x="58.4" y="110" width="583.6" height="84" fill="#f9eee7"/>
<polygon points="58.4,110 415.1,110 417.3,116.8 428.2,123.3 410.7,129.9 388.8,132.1 384.4,140.8 366.9,143 351.6,145.2 349.4,156.2 345,159.5 331,162.5 300,165.3 265.7,166.6 200,169.6 136,172.1 102.7,174.4 82.9,176 67.7,178.5 58.4,182.5" fill="#ecf2f5"/>
<polygon points="438,110 452,110 450,116 444,118 439,115" fill="#ecf2f5"/>
<polygon points="349.4,194 349.4,188 362.5,178.1 388.8,177 410.7,178.1 432.6,178.1 454.5,175.9 476.4,173.7 480,172.5 504,174.9 528,176.1 552,172.5 576,170.1 600,168.4 624,167 642,165.3 642,194" fill="#ecf2f5"/>
<polygon points="300.7,183 306,180.5 318,180.3 327,183 320,186.5 305,186.8" fill="#ecf2f5"/>
<polygon points="58.4,110 283.2,110 274.4,116.8 261.3,121.1 248.2,127.7 232.8,136.5 221.9,140.8 217.5,149.6 208.8,158.4 200,162.7 170,165 136,168.7 100,170.5 80,171.8 58.4,173.2" fill="#d4e6f1"/>
<polygon points="200,130 215,129 224,132 220,136 205,136.5 200,135" fill="#ecf2f5"/>
<polygon points="172,117 176,116 178,118 174,119" fill="#ecf2f5"/>
<polygon points="185,122 189,121 190,125 187,130 185,127" fill="#ecf2f5"/>
<polygon points="196,131 206,130 206,135 197,134" fill="#ecf2f5"/>
<polygon points="58.4,110 84.5,110 84.5,119 95.4,121.1 104.2,125.5 112.9,129.9 121.7,136.5 130.4,139.7 132.6,145.2 139.2,151.8 132.6,155.1 126,155.8 121.7,157.3 108.6,160.6 102.7,161.7 95.4,164.9 82.9,166.4 77.9,168.2 58.4,170" fill="#aed3e6"/>
<polygon points="58.4,124.4 73.5,124.4 75.7,129.9 76.8,136.5 82.3,143 83.4,151.8 80.1,158.4 69.1,162.7 58.4,164.5" fill="#84bcd9"/>
<polygon points="439.2,162.7 447.9,156.2 458.9,158.4 469.8,155.1 480.8,154 485.1,147.4 490,144.2 496.8,142 503.6,135.2 512.6,126.1 523.9,119.3 519.4,110 642,110 642,160.5 624,161 600,162 576,163.5 552,165.5 528,168.9 504,168.9 480,167.7 458.9,168.2 443.5,167.1" fill="#fddcc9"/>
<polygon points="75.5,185.7 79.2,185.7 77.4,189.5" fill="#fddcc9"/>
<polygon points="85.4,185.7 89,185.7 87.2,189.5" fill="#fddcc9"/>
<polygon points="564.7,110 576,117.1 578.3,126.1 573,131 572.1,135 570.8,141.6 566.8,148.1 558.9,157.3 562,158.5 568,159.3 581,159.3 594,158.6 607.5,157.3 620.7,156.7 642,156 642,110" fill="#f8bb9e"/>
<polygon points="595.1,149.8 597,149.8 597,153.4 595.1,153.4" fill="#ee9677"/>
<polygon points="599,149.8 601,149.8 601,153.4 599,153.4" fill="#ee9677"/>
<polygon points="598.6,110 603.1,117.1 605.4,130.6 608.2,135 608.2,152.1 620.5,153.4 642,153.4 642,110" fill="#ee9677"/>
<polygon points="613.3,110 616.7,121.6 619.4,135 620.7,140.3 626,145.5 633.8,148.1 642,149.5 642,110" fill="#db6b55"/>
<polygon points="623.5,110 625.8,117.1 627,126.1 629.9,135 633.8,139 639.1,141.6 642,142.2 642,110" fill="#c53e3d"/>
<polygon points="630.3,121.6 637.1,114.8 642,112 642,128.4 634.8,126.1" fill="#ab162a"/>
<polygon points="602.8,178.5 610,172.5 624.5,170.8 642,170.1 642,182.2 624.5,183.4 607.6,181.4" fill="#d4e6f1"/>
<polyline points="58.4,182.2 60.8,180.4 67.1,178.3 70.5,177.5 79.2,176.8 82.6,175.3 86,175 102.7,173.9 121.7,172.5 136,171.6 175.3,170.1 206,168.3 243.8,166.9 265.7,166.1 287.6,165.2 350,162.8 388.8,161.3 410.7,160.7 443.5,159.9 465.4,158.7 495,157.6 528.2,155.7 552.3,153.5 568.1,151.6 581.3,150 594.6,148.2 602.4,147.3 609.2,145.5 613.1,143.2 617,142.2 619.9,139.3 623.7,136.2 628.6,135 633.4,133 637.3,128.2 641.6,121.4 643,119" fill="none" stroke="#2020ff" stroke-width="1.1" stroke-linejoin="round"/>
</g>
<rect x="58.4" y="110" width="583.6" height="84" fill="none" stroke="#555" stroke-width="0.9"/>
<line x1="55.6" x2="58.4" y1="110" y2="110" stroke="#333" stroke-width="0.8"/>
<text x="54.4" y="113.6" font-size="9.9" text-anchor="end" textLength="20.4" lengthAdjust="spacingAndGlyphs">80W</text>
<line x1="55.6" x2="58.4" y1="131" y2="131" stroke="#333" stroke-width="0.8"/>
<text x="54.4" y="134.6" font-size="9.9" text-anchor="end" textLength="25.7" lengthAdjust="spacingAndGlyphs">120W</text>
<line x1="55.6" x2="58.4" y1="152" y2="152" stroke="#333" stroke-width="0.8"/>
<text x="54.4" y="155.6" font-size="9.9" text-anchor="end" textLength="25.7" lengthAdjust="spacingAndGlyphs">160W</text>
<line x1="55.6" x2="58.4" y1="173" y2="173" stroke="#333" stroke-width="0.8"/>
<text x="54.4" y="176.6" font-size="9.9" text-anchor="end" textLength="22.5" lengthAdjust="spacingAndGlyphs">160E</text>
<line x1="55.6" x2="58.4" y1="194" y2="194" stroke="#333" stroke-width="0.8"/>
<text x="54.4" y="197.6" font-size="9.9" text-anchor="end" textLength="22.5" lengthAdjust="spacingAndGlyphs">120E</text>
<line x1="58.4" x2="58.4" y1="194" y2="196.2" stroke="#333" stroke-width="0.8"/>
<text x="58.4" y="205.5" font-size="10.4" text-anchor="middle">0</text>
<line x1="175.5" x2="175.5" y1="194" y2="196.2" stroke="#333" stroke-width="0.8"/>
<text x="175.5" y="205.5" font-size="10.4" text-anchor="middle">20</text>
<line x1="292.6" x2="292.6" y1="194" y2="196.2" stroke="#333" stroke-width="0.8"/>
<text x="292.6" y="205.5" font-size="10.4" text-anchor="middle">40</text>
<line x1="409.7" x2="409.7" y1="194" y2="196.2" stroke="#333" stroke-width="0.8"/>
<text x="409.7" y="205.5" font-size="10.4" text-anchor="middle">60</text>
<line x1="526.8" x2="526.8" y1="194" y2="196.2" stroke="#333" stroke-width="0.8"/>
<text x="526.8" y="205.5" font-size="10.4" text-anchor="middle">80</text>
<text x="0.7" y="110" font-size="8.9" font-weight="bold">b</text>
<text transform="translate(13.4,152) rotate(-90)" font-size="9.5" text-anchor="middle" textLength="58.6" lengthAdjust="spacingAndGlyphs"><tspan>Optimized </tspan><tspan font-style="italic">χ</tspan><tspan font-size="6.2" font-style="italic" dy="1.8">θ</tspan></text>
<text transform="translate(24.3,152.3) rotate(-90)" font-size="9.5" text-anchor="middle" textLength="51.6" lengthAdjust="spacingAndGlyphs">SMOOTHED</text>
<rect x="648.1" y="110" width="9.6" height="6.2" fill="#7c0722"/>
<rect x="648.1" y="115.2" width="9.6" height="6.2" fill="#ab162a"/>
<rect x="648.1" y="120.5" width="9.6" height="6.2" fill="#c53e3d"/>
<rect x="648.1" y="125.8" width="9.6" height="6.2" fill="#db6b55"/>
<rect x="648.1" y="131" width="9.6" height="6.2" fill="#ee9677"/>
<rect x="648.1" y="136.2" width="9.6" height="6.2" fill="#f8bb9e"/>
<rect x="648.1" y="141.5" width="9.6" height="6.2" fill="#fddcc9"/>
<rect x="648.1" y="146.8" width="9.6" height="6.2" fill="#f9eee7"/>
<rect x="648.1" y="152" width="9.6" height="6.2" fill="#ecf2f5"/>
<rect x="648.1" y="157.2" width="9.6" height="6.2" fill="#d4e6f1"/>
<rect x="648.1" y="162.5" width="9.6" height="6.2" fill="#aed3e6"/>
<rect x="648.1" y="167.8" width="9.6" height="6.2" fill="#84bcd9"/>
<rect x="648.1" y="173" width="9.6" height="6.2" fill="#529dc8"/>
<rect x="648.1" y="178.2" width="9.6" height="6.2" fill="#3480b9"/>
<rect x="648.1" y="183.5" width="9.6" height="6.2" fill="#1f63a8"/>
<rect x="648.1" y="188.8" width="9.6" height="5.2" fill="#0e4179"/>
<polygon points="648.1,110 652.9,105.8 657.7,110" fill="#67001f"/>
<polygon points="648.1,194 652.9,198.2 657.7,194" fill="#053061"/>
<polygon points="648.1,110 652.9,105.8 657.7,110 657.7,194 652.9,198.2 648.1,194" fill="none" stroke="#444" stroke-width="0.6"/>
<line x1="657.7" x2="659.9" y1="110" y2="110" stroke="#333" stroke-width="0.8"/>
<text x="661.9" y="113.7" font-size="10.2" textLength="5.1" lengthAdjust="spacingAndGlyphs">4</text>
<line x1="657.7" x2="659.9" y1="131" y2="131" stroke="#333" stroke-width="0.8"/>
<text x="661.9" y="134.7" font-size="10.2" textLength="5.1" lengthAdjust="spacingAndGlyphs">2</text>
<line x1="657.7" x2="659.9" y1="152" y2="152" stroke="#333" stroke-width="0.8"/>
<text x="661.9" y="155.7" font-size="10.2" textLength="5.1" lengthAdjust="spacingAndGlyphs">0</text>
<line x1="657.7" x2="659.9" y1="173" y2="173" stroke="#333" stroke-width="0.8"/>
<text x="662.3" y="176.7" font-size="10.2" textLength="12.2" lengthAdjust="spacingAndGlyphs">−2</text>
<line x1="657.7" x2="659.9" y1="194" y2="194" stroke="#333" stroke-width="0.8"/>
<text x="662.3" y="197.7" font-size="10.2" textLength="12.2" lengthAdjust="spacingAndGlyphs">−4</text>
<text transform="translate(685.6,152.4) rotate(-90)" font-size="10.2" text-anchor="middle">C</text>
<g clip-path="url(#cp2)">
<rect x="58.4" y="214.7" width="583.6" height="84" fill="#f9eee7"/>
<g transform="translate(58.40 214.70) scale(0.99932 1)" shape-rendering="crispEdges">
<rect x="0" y="0" width="584" height="84" fill="#f9eee7"/>
<path transform="translate(.5 0)" stroke="#1f63a8" stroke-width="1" fill="none" d="M4 40v10"/>
<path transform="translate(.5 0)" stroke="#3480b9" stroke-width="1" fill="none" d="M2 41v9M3 40v14M4 34v6M4 50v7M5 39v8M6 0v15M7 8v2M7 40v13M8 29v27M9 29v28M11 45v11M19 45v5M55 1v12"/>
<path transform="translate(.5 0)" stroke="#529dc8" stroke-width="1" fill="none" d="M0 0v14M0 32v28M1 32v26M2 14v4M2 31v10M2 50v8M3 2v18M3 29v11M3 54v6M4 0v34M4 57v4M5 0v20M5 27v12M5 47v12M6 15v8M6 31v28M7 0v8M7 10v30M7 53v6M8 15v14M8 56v4M9 15v14M9 57v4M10 0v60M11 18v27M11 56v5M12 34v26M14 37v11M15 40v16M16 53v3M17 45v14M18 42v14M19 37v8M19 50v6M20 37v21M21 41v17M22 39v19M23 45v13M26 14v13M26 48v6M27 39v15M29 50v3M30 37v5M31 30v15M32 38v5M36 16v10M39 50v9M43 0v11M44 23v10M46 0v7M48 4v9M49 0v10M52 0v7M53 0v10M54 0v10M55 0v1M55 13v10M56 0v16M75 0v3M96 0v4M97 0v3"/>
<path transform="translate(.5 0)" stroke="#84bcd9" stroke-width="1" fill="none" d="M0 14v18M0 60v3M1 2v30M1 58v4M2 1v13M2 18v13M2 58v4M3 0v2M3 20v9M3 60v3M4 61v2M5 20v7M5 59v4M6 23v8M6 59v3M7 59v3M8 0v15M8 60v3M9 0v15M9 61v2M10 60v3M11 2v16M11 61v2M12 0v34M12 60v3M13 0v58M14 0v37M14 48v8M15 0v40M15 56v5M16 0v16M16 42v11M16 56v6M17 0v9M17 39v6M17 59v3M18 0v5M18 20v22M18 56v4M19 0v6M19 29v8M19 56v4M20 0v6M20 25v12M20 58v3M21 31v10M21 58v3M22 0v5M22 9v30M22 58v3M23 33v12M23 58v3M24 8v52M25 0v1M25 7v23M25 43v16M26 0v14M26 27v21M26 54v6M27 11v28M27 54v5M28 0v60M29 0v50M29 53v7M30 0v37M30 42v17M31 0v3M31 20v10M31 45v13M32 0v38M32 43v16M33 0v53M34 2v52M35 0v58M36 0v16M36 26v32M37 0v49M38 7v16M38 41v16M39 3v47M39 59v3M40 9v52M41 46v13M42 3v17M42 47v10M43 11v47M44 0v23M44 33v23M45 0v8M45 25v30M46 7v35M47 3v36M48 0v4M48 13v18M49 10v8M50 0v17M51 0v11M51 35v19M52 7v9M52 38v18M53 10v13M53 34v19M54 10v15M54 37v17M55 23v26M56 16v36M57 0v5M57 38v17M58 0v4M58 45v8M59 0v18M59 43v10M60 0v28M60 31v24M61 0v22M61 51v3M62 12v26M63 23v19M64 0v6M65 0v6M66 37v16M67 30v18M68 0v15M69 0v32M70 0v45M71 17v34M72 20v31M73 31v10M74 0v4M75 3v7M75 35v23M76 0v3M76 50v6M85 0v2M86 0v10M87 0v1M93 0v8M94 0v11M95 0v11M96 4v7M97 3v9M100 2v9M103 0v19M104 0v7M105 0v8M106 0v1M106 15v1M106 49v10M107 24v21M127 4v22M152 0v9M159 4v15M189 0v4"/>
<path transform="translate(.5 0)" stroke="#aed3e6" stroke-width="1" fill="none" d="M0 63v2M1 0v2M1 62v2M2 0v1M2 62v2M3 63v1M4 63v2M5 63v1M6 62v2M7 62v2M8 63v1M9 63v1M10 63v1M11 0v2M11 63v1M12 63v1M13 58v4M14 56v5M15 61v2M16 16v26M16 62v2M17 9v30M17 62v1M18 5v15M18 60v2M19 6v23M19 60v2M20 6v19M20 61v2M21 0v5M21 15v16M21 61v2M22 5v4M22 61v2M23 0v33M23 61v2M24 0v8M24 60v2M25 1v6M25 30v13M25 59v3M26 60v2M27 0v11M27 59v3M28 60v2M29 60v2M30 59v3M31 3v17M31 58v4M32 59v3M33 53v6M34 0v2M34 54v6M35 58v3M36 58v3M37 49v9M38 0v7M38 23v18M38 57v4M39 0v3M39 62v1M40 0v9M40 61v2M41 0v46M41 59v3M42 0v3M42 20v27M42 57v4M43 58v3M44 56v5M45 8v17M45 55v5M46 42v9M47 0v3M47 39v9M48 31v9M49 18v39M50 17v39M51 11v24M51 54v6M52 16v22M52 56v4M53 23v11M53 53v7M54 25v12M54 54v6M55 49v10M56 52v6M57 5v33M57 55v4M58 4v41M58 53v6M59 18v25M59 53v7M60 28v3M60 55v6M61 22v29M61 54v6M62 0v12M62 38v19M63 0v23M63 42v13M64 6v17M64 30v29M65 6v53M66 0v37M66 53v6M67 0v30M67 48v9M68 15v43M69 32v25M70 45v15M71 0v17M71 51v8M72 0v20M72 51v7M73 0v31M73 41v18M74 4v10M74 18v41M75 10v25M75 58v3M76 3v19M76 28v22M76 56v4M77 0v5M77 23v36M78 0v3M78 6v52M79 0v56M80 24v24M82 0v4M82 29v28M83 0v1M83 12v12M84 11v44M85 2v55M86 10v47M87 1v57M88 0v2M88 26v30M89 17v40M90 34v26M92 0v60M93 8v7M93 31v28M94 11v10M94 36v21M95 11v12M95 33v14M96 11v11M97 12v43M98 0v58M99 0v55M100 0v2M100 11v40M101 10v47M102 0v58M103 19v40M104 7v52M105 8v52M106 1v14M106 16v33M106 59v2M107 0v24M107 45v11M108 0v4M108 18v31M109 0v40M110 0v45M111 0v57M112 0v22M113 0v1M114 0v16M115 0v4M116 0v1M117 0v3M117 53v5M118 0v29M119 0v17M120 0v21M123 52v2M125 0v5M125 36v11M126 0v51M127 0v4M127 26v17M128 0v26M129 0v21M129 43v14M130 26v28M131 30v21M132 9v21M133 19v13M133 45v14M134 0v2M135 0v9M136 0v19M136 34v2M137 0v38M140 0v21M141 4v43M141 48v7M143 20v16M146 0v7M147 0v3M148 0v14M149 0v9M149 11v11M150 12v20M151 0v2M151 53v4M152 9v9M153 0v27M153 46v7M154 0v28M155 0v10M156 0v2M156 53v3M158 0v19M159 0v4M159 19v14M163 25v14M164 23v29M165 29v27M166 8v15M167 0v26M177 0v7M180 0v5M181 0v4M183 0v3M184 0v9M185 0v6M186 0v3M188 0v9M189 4v12M190 0v5M191 0v8M192 0v24M193 0v6M194 0v11M195 0v12M200 0v2M204 0v1M205 0v2M207 0v5M208 0v1M218 0v11M227 0v20M258 0v5M260 0v8M465 68v11M492 83v1M557 63v8M558 62v18M568 66v8"/>
<path transform="translate(.5 0)" stroke="#d4e6f1" stroke-width="1" fill="none" d="M0 65v2M1 64v2M2 64v2M3 64v2M4 65v1M5 64v2M6 64v2M7 64v2M8 64v1M9 64v1M10 64v2M11 64v2M12 64v2M13 62v2M14 61v2M15 63v1M16 64v1M17 63v2M18 62v2M19 62v2M20 63v2M21 5v10M21 63v1M22 63v1M23 63v1M24 62v2M25 62v1M26 62v2M27 62v1M28 62v2M29 62v2M30 62v1M31 62v1M32 62v1M33 59v3M34 60v3M35 61v2M36 61v2M37 58v3M38 61v2M39 63v2M40 63v1M41 62v1M42 61v2M43 61v2M44 61v1M45 60v2M46 51v10M47 48v9M48 40v19M49 57v4M50 56v4M51 60v2M52 60v2M53 60v2M54 60v2M55 59v2M56 58v3M57 59v2M58 59v2M59 60v2M60 61v1M61 60v2M62 57v3M63 55v5M64 23v7M64 59v2M65 59v2M66 59v2M67 57v3M68 58v2M69 57v3M70 60v1M71 59v2M72 58v3M73 59v2M74 14v4M74 59v2M75 61v1M76 22v6M76 60v2M77 5v18M77 59v2M78 3v3M78 58v3M79 56v5M80 0v24M80 48v7M81 0v6M81 11v50M82 4v25M82 57v4M83 1v11M83 24v33M84 0v11M84 55v5M85 57v4M86 57v4M87 58v3M88 2v24M88 56v4M89 0v17M89 57v4M90 10v24M90 60v2M91 0v59M92 60v2M93 15v16M93 59v2M94 21v15M94 57v4M95 23v10M95 47v13M96 22v39M97 55v5M98 58v3M99 55v5M100 51v10M101 9v1M101 57v4M102 58v3M103 59v2M104 59v2M105 60v2M106 61v1M107 56v4M108 4v14M108 49v11M109 40v17M110 45v14M111 57v3M112 22v38M113 1v59M114 16v43M115 4v6M115 31v28M116 1v20M116 27v30M117 3v30M117 39v14M117 58v3M118 29v30M119 17v12M119 43v15M120 21v40M121 0v8M121 16v44M122 0v1M122 18v40M123 0v52M123 54v6M124 0v57M125 5v31M125 47v10M126 51v8M127 43v16M128 26v12M128 55v2M129 21v22M129 57v3M130 0v26M130 54v5M131 0v30M131 51v7M132 0v9M132 30v29M133 0v19M133 32v13M133 59v2M134 2v57M135 9v40M136 19v15M136 36v15M137 38v20M138 20v38M139 0v58M139 77v7M140 21v36M141 0v4M141 47v1M141 55v4M142 0v58M143 0v20M143 36v9M144 0v48M145 0v58M146 7v10M146 37v19M147 3v13M147 44v13M148 14v44M149 9v2M149 22v36M150 0v12M150 32v8M150 52v7M151 2v51M151 57v3M151 65v19M152 18v40M153 27v19M153 53v5M154 28v28M155 10v47M156 2v51M156 56v3M157 0v58M158 19v18M158 43v12M159 33v24M160 0v56M161 0v52M162 0v54M163 0v25M163 39v18M164 0v23M164 52v6M165 0v29M165 56v3M166 0v8M166 23v14M166 41v16M167 26v11M167 39v18M168 0v32M168 39v13M169 0v56M170 4v53M171 21v36M172 0v58M173 0v58M174 0v10M174 35v20M175 0v33M176 0v50M177 7v50M178 0v57M179 0v20M179 41v16M180 5v13M181 4v10M181 42v11M182 0v14M182 40v12M183 3v20M184 9v35M185 6v28M186 3v28M187 0v7M188 9v19M189 16v12M190 5v13M191 8v20M192 24v27M193 6v37M194 11v28M195 12v41M196 0v12M196 31v16M197 0v49M198 0v41M199 0v39M200 2v39M201 0v39M202 0v18M203 0v7M203 23v18M204 1v10M204 46v9M205 2v11M205 43v10M206 0v8M206 40v8M207 5v36M208 1v30M209 0v30M210 0v11M211 0v11M212 0v7M213 0v14M214 0v42M215 0v12M217 0v12M217 46v9M218 11v9M218 52v2M219 0v21M220 0v20M220 34v19M223 29v25M224 0v47M225 0v43M226 0v54M227 20v9M228 0v34M228 83v1M229 0v19M230 0v3M230 50v4M231 0v3M231 12v40M232 0v2M232 19v36M233 0v39M234 0v2M235 0v5M236 0v2M238 0v2M241 0v3M243 0v1M248 0v15M249 0v21M250 0v5M250 28v11M251 0v6M252 0v5M253 0v10M254 0v1M255 0v37M256 0v11M257 0v5M258 5v13M259 0v31M260 8v18M261 0v23M262 0v3M262 13v11M263 48v4M264 0v1M265 0v3M265 41v13M266 0v5M266 25v29M267 0v2M267 30v20M268 36v14M269 0v6M270 0v4M270 36v11M271 0v11M272 0v53M273 42v8M274 28v22M275 27v25M276 20v34M277 39v9M280 0v2M281 4v19M281 45v8M282 0v20M285 48v6M288 0v11M289 0v14M300 79v5M308 83v1M350 65v16M352 77v7M361 75v9M365 76v7M368 77v7M381 81v3M382 70v4M393 76v8M399 70v14M400 38v8M401 76v8M405 78v6M407 72v8M420 70v7M423 80v4M428 83v1M431 63v7M435 79v5M436 80v4M439 76v8M440 80v4M444 66v2M445 63v8M457 72v12M458 81v3M461 70v14M462 76v8M464 61v23M465 63v5M465 79v5M466 72v12M467 62v12M469 82v2M471 63v21M482 74v9M485 63v2M491 81v3M492 71v12M493 72v12M494 72v12M495 65v2M500 83v1M501 78v6M503 62v22M505 62v16M506 63v3M507 78v6M511 66v18M512 80v4M514 78v6M515 74v10M518 80v4M519 73v11M520 83v1M525 63v21M526 78v6M527 72v12M531 72v12M532 61v20M533 67v3M533 81v3M534 62v17M535 61v13M536 79v5M538 62v16M541 63v7M542 73v11M543 73v11M545 80v4M546 80v4M549 73v11M550 73v11M551 72v12M556 60v11M557 58v5M557 71v11M558 58v4M558 80v4M563 59v3M564 61v9M566 75v9M567 63v21M568 59v7M568 74v10M569 61v23M570 66v18M571 71v13M572 71v13M573 79v5M576 62v22M577 65v14M578 75v9M583 69v5"/>
<path transform="translate(.5 0)" stroke="#ecf2f5" stroke-width="1" fill="none" d="M0 67v1M1 66v1M2 66v1M3 66v1M4 66v1M5 66v1M6 66v1M7 66v1M7 75v8M8 65v2M9 65v1M10 66v1M11 66v1M12 66v1M13 64v2M14 63v2M15 64v2M16 65v2M17 65v1M18 64v1M19 64v1M20 65v1M21 64v2M22 64v1M23 64v1M23 78v6M24 64v1M25 63v1M26 64v1M27 63v2M28 64v1M29 64v1M30 63v2M31 63v2M32 63v2M33 62v2M34 63v1M35 63v2M36 63v1M37 61v2M38 63v1M39 65v19M40 64v20M41 63v2M42 63v1M43 63v1M44 62v2M45 62v1M46 61v2M47 57v4M48 59v3M49 61v2M50 60v2M51 62v1M52 62v1M53 62v1M54 62v1M55 61v2M56 61v1M57 61v2M58 61v2M59 62v1M60 62v2M61 62v1M62 60v2M63 60v2M64 61v2M65 61v2M66 61v2M67 60v2M68 60v2M69 60v2M70 61v2M71 61v1M72 61v1M73 61v2M73 69v15M74 61v2M75 62v6M76 62v2M77 61v2M78 61v2M79 61v2M80 55v6M81 6v5M81 61v2M82 61v2M83 57v4M84 60v3M85 61v2M86 61v2M87 61v2M88 60v2M89 61v2M89 81v3M90 0v10M90 62v3M91 59v2M92 62v12M93 61v2M94 61v2M95 60v2M96 61v2M97 60v2M98 61v2M99 60v2M100 61v1M101 7v2M101 61v1M102 61v1M102 76v8M103 61v2M104 61v1M105 62v3M106 62v5M107 60v2M108 60v2M109 57v4M110 59v3M111 60v2M112 60v2M113 60v2M114 59v2M115 10v6M115 25v6M115 59v2M116 21v6M116 57v3M117 33v6M117 61v3M118 59v2M119 29v14M119 58v3M119 80v4M120 61v8M121 8v8M121 60v2M122 1v17M122 58v3M123 60v2M124 57v3M125 57v3M126 59v2M127 59v3M127 66v18M128 38v17M128 57v4M129 60v3M130 59v2M131 58v2M132 59v2M132 73v11M133 61v19M134 59v2M135 49v9M136 51v7M137 58v2M138 18v2M138 58v2M138 79v5M139 58v3M139 67v10M140 57v3M141 59v2M142 58v2M143 45v14M144 48v11M145 58v2M146 17v20M146 56v3M147 16v28M147 57v3M147 77v7M148 58v2M148 79v5M149 58v2M149 74v10M150 40v12M150 59v25M151 60v5M152 58v2M153 58v2M154 56v3M155 57v3M156 59v6M157 58v2M158 37v6M158 55v4M159 57v4M160 56v3M161 52v7M162 54v5M163 57v2M164 58v2M165 59v6M166 37v4M166 57v3M166 76v8M167 37v2M167 57v2M168 32v7M168 52v6M169 56v3M170 0v4M170 57v3M170 65v13M171 20v1M171 57v3M172 58v2M173 58v26M174 10v25M174 55v4M175 33v26M176 50v8M177 57v3M178 57v3M178 73v11M179 20v21M179 57v2M180 18v41M181 14v6M181 34v8M181 53v6M181 74v10M182 14v8M182 31v9M182 52v6M183 23v35M184 44v15M185 34v25M185 81v3M186 31v27M186 77v4M187 7v50M188 28v26M189 28v31M189 80v4M190 18v66M191 28v30M192 51v7M193 43v15M193 73v11M194 39v18M195 53v4M196 12v19M196 47v10M197 49v8M198 41v14M199 39v18M200 41v15M201 39v18M202 18v39M203 7v16M203 41v16M204 11v35M204 55v29M205 13v9M205 35v8M205 53v4M205 81v3M206 8v32M206 48v9M207 41v13M207 82v2M208 31v13M209 30v12M210 11v25M211 11v46M211 65v9M212 7v29M212 52v5M212 68v16M213 14v48M214 42v18M215 12v46M216 0v8M216 24v10M216 38v18M217 12v34M217 55v8M217 75v9M218 20v7M218 37v15M218 54v10M219 21v37M220 20v14M220 53v14M221 0v57M222 16v41M222 72v12M223 0v29M223 54v5M224 47v10M225 43v31M226 54v9M227 29v27M227 75v9M228 34v19M228 69v14M229 19v23M229 50v6M230 3v47M230 54v11M230 83v1M231 3v9M231 52v27M232 2v17M232 55v29M233 39v15M233 69v12M234 2v44M235 5v44M236 2v51M237 0v44M238 2v7M239 0v46M240 0v49M241 3v11M241 32v22M242 0v18M242 26v29M242 66v18M243 1v56M243 59v22M244 0v30M244 39v30M245 0v57M245 60v5M246 0v55M247 0v44M248 15v23M248 48v8M248 62v22M249 21v34M250 5v23M250 39v16M251 6v50M251 76v8M252 5v28M252 70v14M253 10v44M254 1v61M255 37v18M256 11v44M257 5v54M258 18v46M259 31v23M260 26v36M261 23v35M262 3v10M262 24v40M263 0v48M263 52v14M264 1v11M264 24v32M265 3v38M265 54v30M266 5v20M266 54v30M267 2v28M267 50v5M268 0v9M268 18v18M268 50v5M268 71v13M269 6v50M270 4v12M270 23v13M270 47v8M271 11v43M272 53v16M273 0v42M273 50v5M274 0v28M274 50v5M275 0v4M275 9v18M275 52v3M276 0v20M276 54v9M277 0v39M277 48v6M278 0v54M279 0v84M280 2v53M281 0v4M281 23v22M281 53v5M282 20v10M282 41v13M283 0v26M283 34v20M284 0v84M285 0v48M285 54v26M286 0v30M286 49v4M287 0v53M288 11v23M288 43v11M288 69v8M289 14v15M289 48v5M290 26v6M290 41v12M291 0v16M291 32v21M291 71v13M292 0v54M292 72v12M293 0v53M293 74v10M294 0v54M294 76v8M295 0v47M295 68v16M296 0v39M297 0v53M298 44v12M298 65v19M299 0v10M299 43v41M300 0v15M300 67v12M301 15v38M302 0v53M303 0v35M303 69v15M304 0v8M304 47v5M304 82v2M305 0v10M305 28v29M306 0v15M306 28v25M307 26v12M308 0v5M308 50v2M308 68v15M310 0v53M310 59v25M311 8v35M311 71v13M312 15v17M313 0v5M314 0v11M314 65v19M315 0v11M315 65v19M316 0v53M316 65v14M317 0v17M317 73v11M318 14v12M318 68v16M319 61v23M320 0v9M320 42v10M320 62v19M321 0v52M322 0v6M322 22v27M322 68v3M323 0v53M323 78v6M324 0v14M324 47v5M324 60v24M325 0v7M325 64v20M326 0v7M326 14v12M326 75v7M327 0v26M327 65v18M328 0v17M328 65v18M329 0v9M329 66v18M330 0v21M330 42v10M330 65v19M331 0v12M332 0v5M333 0v12M333 42v9M333 73v11M334 13v24M334 61v12M334 81v3M335 0v51M336 0v43M336 63v21M337 0v32M337 67v17M338 0v19M338 55v29M339 63v21M340 54v30M341 69v15M342 62v22M343 63v21M344 63v21M345 0v20M345 63v21M346 0v17M346 65v19M347 0v17M347 65v19M348 0v43M348 65v19M349 0v29M349 47v37M350 2v48M350 56v9M350 81v3M351 0v9M351 63v21M352 0v9M352 64v13M353 0v21M353 59v25M354 36v4M354 66v18M355 63v21M356 61v14M357 58v18M358 60v24M359 63v21M360 28v18M360 64v20M361 30v17M361 65v10M362 65v19M363 65v19M364 28v15M364 64v20M365 30v12M365 66v10M365 83v1M366 66v18M367 63v21M368 0v5M368 29v7M368 64v13M369 63v21M370 67v17M371 66v18M372 63v9M373 60v18M374 29v7M374 63v12M375 26v15M375 62v22M376 61v23M377 64v20M378 32v4M378 63v21M379 66v18M380 63v21M381 63v18M382 15v7M382 61v9M382 74v10M383 24v2M383 65v19M384 48v36M385 62v22M386 0v1M386 63v21M387 61v23M388 63v21M389 60v24M390 65v19M391 65v19M392 62v22M393 63v13M394 64v20M395 63v21M396 47v3M396 57v27M397 0v1M397 42v8M397 60v24M398 64v20M399 63v7M400 28v10M400 46v5M400 62v22M401 34v11M401 63v13M402 59v25M403 59v25M404 60v24M405 65v13M406 66v18M407 61v11M407 80v4M408 61v23M409 64v20M410 67v17M411 27v8M411 67v17M412 30v9M412 64v20M413 63v21M414 62v22M415 64v20M416 64v20M417 66v18M418 61v23M419 62v22M420 62v8M420 77v7M421 64v20M422 62v22M423 61v19M424 63v6M424 81v3M425 66v18M426 68v16M427 62v22M428 49v34M429 61v23M430 61v23M431 58v5M431 70v14M432 59v25M433 61v23M434 58v26M435 61v18M436 64v16M437 63v21M438 61v23M439 61v15M440 61v19M441 61v23M442 58v26M443 62v22M444 59v7M444 68v16M445 58v5M445 71v13M446 57v27M447 60v24M448 62v22M450 61v20M451 61v23M452 62v22M453 61v23M454 61v23M455 24v12M455 60v24M456 63v21M457 60v12M458 59v22M459 61v23M460 61v23M461 60v10M462 62v14M463 60v24M464 58v3M465 60v3M466 62v10M467 58v4M467 74v10M468 60v24M469 66v16M470 62v22M471 59v4M472 58v26M473 59v25M474 60v24M475 60v24M476 62v12M476 82v2M477 60v24M478 59v25M479 62v22M481 62v22M482 63v11M482 83v1M483 81v3M484 60v24M485 57v6M485 65v19M486 60v24M487 59v25M488 59v25M489 62v22M490 60v24M491 69v12M492 62v9M493 61v11M494 59v13M495 57v8M495 67v17M496 59v25M497 59v25M498 64v20M499 65v19M500 61v22M501 60v18M502 59v25M503 57v5M504 59v25M505 57v5M505 78v6M506 57v6M506 66v18M507 59v19M508 58v26M509 58v26M510 60v24M511 58v8M512 58v22M513 60v24M514 59v19M515 59v15M516 57v27M517 58v26M518 59v21M519 59v14M520 60v23M521 60v24M522 59v25M523 58v26M524 59v25M525 56v7M526 58v20M527 58v14M528 59v25M529 61v23M530 59v25M531 61v11M532 57v4M532 81v3M533 58v9M533 70v11M534 57v5M534 79v5M535 57v4M535 74v10M536 58v21M537 57v27M538 58v4M538 78v6M539 58v26M540 58v26M541 57v6M541 70v14M542 60v13M543 61v12M544 59v25M545 59v21M546 64v16M547 58v26M548 58v26M549 58v15M550 57v16M551 57v15M552 57v27M553 58v26M554 65v2M554 80v4M555 57v27M556 56v4M556 71v13M557 55v3M557 82v2M558 55v3M559 57v27M560 56v28M561 57v27M562 56v28M563 54v5M563 62v22M564 56v5M564 70v14M565 58v26M566 59v16M567 58v5M568 57v2M569 57v4M570 58v8M571 58v13M572 58v13M573 57v22M574 57v27M575 57v27M576 57v5M577 58v7M577 79v5M578 59v16M579 58v26M580 61v23M581 59v25M582 59v25M583 58v11M583 74v10"/>
<path transform="translate(.5 0)" stroke="#fddcc9" stroke-width="1" fill="none" d="M5 79v5M9 71v5M13 68v11M14 67v8M17 78v6M18 67v13M25 66v13M33 65v9M34 75v9M36 67v5M37 65v19M42 70v14M45 65v13M46 65v12M47 63v2M47 73v11M48 64v3M48 80v4M49 66v18M50 64v3M50 76v8M55 65v12M56 64v9M57 65v7M58 65v10M62 64v15M64 69v6M66 71v13M67 64v20M68 64v20M69 64v20M71 65v17M72 64v7M75 83v1M79 82v2M80 64v2M83 64v8M87 73v11M91 64v8M94 77v7M101 3v2M109 65v2M111 72v12M114 68v16M116 62v22M117 81v3M135 60v11M136 61v9M138 15v2M143 62v18M154 63v17M164 70v14M171 16v2M176 60v24M179 70v12M188 60v13M197 61v6M198 59v5M205 65v5M206 66v8M208 57v19M209 50v28M210 45v22M216 67v11M219 73v11M240 56v10M256 70v11M267 62v10M296 54v7M300 31v9M313 28v16M314 27v13M315 40v5M320 19v10M339 18v18M340 2v32M341 13v17M342 9v21M343 7v11M343 50v3M357 22v16M363 0v17M365 0v2M365 53v6M367 13v16M370 0v12M371 0v30M372 0v30M372 47v2M373 4v18M373 45v7M374 8v4M376 22v2M376 25v22M377 23v1M378 21v2M380 38v14M383 0v11M384 0v11M385 38v9M386 26v24M388 3v8M388 38v9M389 0v15M390 38v16M391 25v31M392 28v15M393 40v15M394 39v15M398 29v4M399 5v9M402 9v3M403 3v8M403 25v6M405 48v12M406 6v24M406 39v20M407 28v10M407 44v6M408 5v28M409 0v32M409 43v12M410 0v28M410 46v15M411 0v17M411 44v17M412 0v20M412 50v7M413 0v24M414 4v38M414 51v1M415 13v44M416 10v49M417 0v27M417 49v11M418 5v2M418 8v5M419 32v24M420 0v40M420 51v7M421 0v13M421 34v25M422 2v12M422 41v15M423 7v2M423 30v24M424 0v29M424 42v13M425 20v7M425 47v2M425 52v4M426 4v55M427 12v18M427 39v14M428 22v19M429 6v41M430 13v42M431 40v9M432 8v3M432 20v18M433 4v28M434 10v12M435 10v10M436 0v59M437 0v2M437 11v46M438 15v30M439 4v50M440 0v28M440 46v8M441 31v23M442 0v43M443 4v18M443 31v12M443 49v7M444 2v53M445 6v21M445 42v10M446 2v43M447 1v17M447 44v8M448 0v56M449 0v57M450 22v32M451 20v37M452 16v41M453 0v15M453 25v31M454 0v29M454 46v2M455 0v13M455 43v12M456 1v20M456 38v19M457 17v4M457 33v20M458 0v18M458 27v15M458 47v7M459 0v41M459 47v8M460 0v35M460 48v9M461 0v3M461 9v47M462 0v43M462 48v10M463 0v5M463 19v16M463 46v9M464 0v29M464 45v9M465 0v13M465 52v5M466 0v6M466 33v6M466 53v5M467 6v29M467 47v8M468 0v38M468 49v8M469 4v35M469 46v13M470 13v16M470 53v5M471 5v13M471 52v4M472 3v15M472 46v8M473 0v53M474 0v40M474 46v10M475 0v35M475 46v10M476 10v24M476 51v6M477 7v32M477 47v9M478 5v38M478 44v10M479 0v21M479 35v8M479 45v12M480 0v42M480 45v13M481 0v18M481 47v10M482 0v19M482 36v4M482 45v13M483 17v7M483 56v4M484 11v16M484 52v4M485 45v7M486 45v11M487 46v10M488 46v10M489 0v2M489 46v11M490 0v26M490 46v10M491 0v27M491 45v12M492 24v5M492 54v4M493 24v4M493 51v5M494 32v21M495 0v44M496 0v9M496 21v34M497 0v55M498 21v9M498 54v4M499 0v29M499 54v4M500 0v26M500 52v4M501 0v19M501 50v6M502 7v8M502 51v4M503 44v9M504 46v9M505 42v11M506 0v5M506 47v7M507 0v2M507 51v4M508 0v6M508 49v6M509 46v9M510 0v8M510 51v5M511 14v2M511 48v6M512 8v9M512 49v5M513 0v12M513 51v5M514 0v5M514 50v5M515 2v18M515 52v3M516 0v9M516 19v33M517 0v27M517 32v8M517 43v12M518 0v6M518 52v3M519 0v9M519 51v4M520 50v5M521 53v3M522 53v3M523 50v5M524 49v6M525 43v9M526 44v10M527 51v4M528 53v3M529 52v4M530 49v6M531 53v3M532 52v3M533 52v3M534 52v3M535 51v3M536 51v4M537 51v3M538 52v3M539 53v2M540 52v3M541 52v2M542 54v2M543 55v2M544 53v2M545 52v3M546 53v3M547 52v3M548 53v2M549 53v2M550 51v3M551 50v3M552 51v3M553 52v3M554 55v2M555 53v2M556 23v7M556 52v2M557 51v2M558 51v2M559 52v2M560 49v4M561 52v2M562 50v4M563 46v5M564 51v3M565 53v2M566 54v2M567 53v2M568 53v2M569 53v2M570 54v2M571 53v2M572 53v2M573 52v3M574 52v3M575 53v2M576 53v2M577 54v2M578 54v2M579 54v2M580 54v2M581 54v2M582 54v2M583 54v2"/>
<path transform="translate(.5 0)" stroke="#f8bb9e" stroke-width="1" fill="none" d="M47 65v8M48 67v13M50 67v9M101 0v3M138 12v3M171 13v3M376 17v5M377 21v2M378 17v4M402 4v5M418 2v3M420 40v11M423 2v5M427 30v9M432 4v4M437 2v9M441 24v7M445 27v15M452 5v11M453 15v10M457 12v5M458 42v5M459 41v6M460 35v13M462 43v5M463 5v14M463 35v11M464 29v16M465 13v39M466 6v27M466 39v14M467 1v5M467 35v12M468 38v11M469 39v7M470 29v13M470 45v8M471 18v10M471 47v5M472 18v28M474 40v6M475 35v11M476 34v17M477 39v8M478 43v1M479 43v2M480 42v3M481 18v29M482 19v17M482 40v5M483 0v17M483 24v32M484 0v11M484 27v25M485 0v45M486 0v45M487 0v46M488 0v46M489 2v44M490 26v20M491 27v18M492 17v7M492 29v25M493 21v3M493 28v23M494 21v11M498 0v21M498 30v24M499 29v11M499 44v10M500 26v14M500 43v9M501 19v11M501 44v6M502 0v7M502 15v18M502 44v7M503 31v13M504 31v15M505 28v14M506 5v42M507 2v14M507 29v22M508 6v8M508 42v7M509 0v14M509 34v12M510 8v31M510 42v9M511 0v14M511 16v16M511 43v5M512 17v15M512 43v6M513 12v19M513 43v8M514 5v34M514 42v8M515 20v16M515 44v8M516 9v10M517 40v3M518 6v34M518 42v10M519 9v31M519 42v9M520 18v19M520 42v8M521 0v29M521 45v8M522 0v26M522 44v9M523 0v5M523 17v16M523 42v8M524 0v38M524 42v7M525 0v4M525 20v23M526 21v23M527 43v8M528 0v11M528 46v7M529 13v3M529 43v9M530 0v23M530 42v7M531 0v20M531 47v6M532 0v21M532 42v10M533 10v1M533 18v13M533 43v9M534 0v31M534 43v9M535 0v7M535 13v16M535 42v9M536 11v26M536 41v10M537 42v9M538 48v4M539 49v4M540 44v8M541 41v11M542 51v3M543 52v3M544 47v6M545 41v11M546 49v4M547 36v16M548 50v3M549 49v4M550 5v1M550 40v11M551 40v10M552 46v5M553 48v4M554 53v2M555 26v7M555 37v3M555 49v4M556 19v4M556 30v9M556 49v3M557 47v4M558 48v3M559 47v5M560 40v9M561 48v4M562 40v10M563 39v7M564 46v5M565 51v2M566 52v2M567 51v2M568 51v2M569 51v2M570 52v2M571 51v2M572 50v3M573 47v5M574 50v2M575 51v2M576 51v2M577 52v2M578 52v2M579 52v2M580 52v2M581 52v2M582 52v2M583 52v2"/>
<path transform="translate(.5 0)" stroke="#ee9677" stroke-width="1" fill="none" d="M138 10v2M171 10v3M376 9v8M377 18v3M378 12v5M402 0v4M418 0v2M423 0v2M432 0v4M441 22v2M452 0v5M457 6v6M467 0v1M470 42v3M471 28v10M471 44v3M492 9v8M493 16v5M494 1v20M499 40v4M500 40v3M501 30v14M502 33v11M503 27v4M504 28v3M505 21v7M507 16v13M508 14v28M509 14v20M510 39v3M511 32v11M512 32v11M513 31v12M514 39v3M515 36v8M518 40v2M519 40v2M520 15v3M520 37v5M521 29v9M521 42v3M522 26v9M522 42v2M523 5v12M523 33v9M524 38v4M525 4v16M526 0v5M526 13v8M527 0v43M528 11v7M528 42v4M529 8v5M529 16v6M529 40v3M530 23v19M531 20v12M531 41v6M532 21v21M533 8v2M533 11v7M533 31v12M534 31v12M535 7v6M535 29v13M536 0v11M536 37v4M537 0v42M538 0v48M539 0v24M539 41v8M540 0v44M541 28v13M542 41v10M543 46v6M544 0v10M544 39v8M545 0v7M545 27v14M546 39v10M547 0v2M547 24v12M548 37v13M549 0v2M549 19v9M549 38v11M550 0v5M550 6v34M551 0v31M551 36v4M552 3v24M552 37v9M553 37v11M554 27v6M554 36v7M554 50v3M555 23v3M555 33v4M555 40v9M556 14v5M556 39v10M557 22v10M557 34v13M558 35v13M559 34v13M560 34v6M561 38v10M562 32v8M563 32v7M564 33v13M565 40v11M566 49v3M567 48v3M568 47v4M569 48v3M570 49v3M571 38v13M572 34v16M573 29v18M574 42v8M575 47v4M576 45v6M577 49v3M578 49v3M579 49v3M580 49v3M581 23v5M581 50v2M582 31v11M582 49v3M583 50v2"/>
<path transform="translate(.5 0)" stroke="#db6b55" stroke-width="1" fill="none" d="M138 7v3M171 7v3M376 0v9M377 14v4M378 4v8M441 19v3M457 0v6M471 38v6M492 1v8M493 9v7M494 0v1M503 18v9M504 22v6M505 7v14M520 8v7M521 38v4M522 35v7M526 5v8M528 18v5M528 34v8M529 0v8M529 22v18M531 32v9M533 3v5M539 24v17M541 0v28M542 0v41M543 21v7M543 40v6M544 10v29M545 7v20M546 0v39M547 2v22M548 18v19M549 2v17M549 28v10M551 31v5M552 0v3M552 27v10M553 22v15M554 24v3M554 33v3M554 43v7M555 20v3M556 0v2M556 6v8M557 19v3M557 32v2M558 19v16M559 0v34M560 0v34M561 0v17M561 33v5M562 0v32M563 29v3M564 30v3M565 6v7M565 29v11M566 30v19M567 29v19M568 0v1M568 27v20M569 28v9M569 40v8M570 27v22M571 28v10M572 27v7M573 26v3M574 26v16M575 6v10M575 25v22M576 4v9M576 25v20M577 25v24M578 26v23M579 30v3M579 36v13M580 28v21M581 0v23M581 28v22M582 22v9M582 42v7M583 23v27"/>
<path transform="translate(.5 0)" stroke="#c53e3d" stroke-width="1" fill="none" d="M138 2v5M171 3v4M377 10v4M378 0v4M441 13v6M492 0v1M493 2v7M503 0v18M504 0v22M505 0v7M520 0v8M528 23v11M533 0v3M543 16v5M543 28v12M548 10v8M553 14v8M554 20v4M555 16v4M556 2v4M557 15v4M558 0v19M561 17v16M563 24v5M564 0v30M565 0v6M565 13v16M566 0v15M566 27v3M567 0v29M568 1v26M569 0v28M569 37v3M570 10v17M571 26v2M572 24v3M573 5v21M574 0v26M575 0v6M575 16v9M576 0v4M576 13v12M577 0v19M577 22v3M578 23v3M579 25v5M579 33v3M580 22v6M582 15v7M583 19v4"/>
<path transform="translate(.5 0)" stroke="#ab162a" stroke-width="1" fill="none" d="M138 0v2M171 0v3M377 2v8M441 0v13M493 0v2M543 3v13M548 0v10M553 4v10M554 15v5M555 12v4M557 9v6M563 18v6M566 15v12M570 0v10M571 13v13M572 8v16M573 0v5M577 19v3M578 0v23M579 22v3M580 6v16M582 0v15M583 0v19"/>
<path transform="translate(.5 0)" stroke="#7c0722" stroke-width="1" fill="none" d="M377 0v2M543 0v3M553 0v4M554 10v5M555 8v4M557 0v9M563 7v11M571 0v13M572 0v8M579 14v8M580 0v6"/>
<path transform="translate(.5 0)" stroke="#67001f" stroke-width="1" fill="none" d="M554 0v10M555 0v8M563 0v7M579 0v14"/>
</g>
<polyline points="58.4,280.8 77.9,279.1 88.8,278.5 110.7,277.3 128.3,276.3 152.3,276.5 176.4,275.5 206,273.5 243.8,273 265.7,271.6 287.6,270.7 320.4,269.2 350,268.3 388.8,266.7 443.5,265.6 495,263.6 512.6,263.3 528.2,261.5 552.3,259.3 569.2,258.3 585,257.6 595.7,256.1 604.2,254.7 607.4,252.9 613.8,251.5 617,249.9 622.3,245.7 627.6,242.5 635.1,239.3 638.3,238.2 641.5,235.6 643,234.2" fill="none" stroke="#2a2a2a" stroke-width="0.9" stroke-linejoin="round"/>
</g>
<rect x="58.4" y="214.7" width="583.6" height="84" fill="none" stroke="#555" stroke-width="0.9"/>
<line x1="55.6" x2="58.4" y1="214.7" y2="214.7" stroke="#333" stroke-width="0.8"/>
<text x="54.4" y="218.3" font-size="9.9" text-anchor="end" textLength="20.4" lengthAdjust="spacingAndGlyphs">80W</text>
<line x1="55.6" x2="58.4" y1="235.7" y2="235.7" stroke="#333" stroke-width="0.8"/>
<text x="54.4" y="239.3" font-size="9.9" text-anchor="end" textLength="25.7" lengthAdjust="spacingAndGlyphs">120W</text>
<line x1="55.6" x2="58.4" y1="256.7" y2="256.7" stroke="#333" stroke-width="0.8"/>
<text x="54.4" y="260.3" font-size="9.9" text-anchor="end" textLength="25.7" lengthAdjust="spacingAndGlyphs">160W</text>
<line x1="55.6" x2="58.4" y1="277.7" y2="277.7" stroke="#333" stroke-width="0.8"/>
<text x="54.4" y="281.3" font-size="9.9" text-anchor="end" textLength="22.5" lengthAdjust="spacingAndGlyphs">160E</text>
<line x1="55.6" x2="58.4" y1="298.7" y2="298.7" stroke="#333" stroke-width="0.8"/>
<text x="54.4" y="302.3" font-size="9.9" text-anchor="end" textLength="22.5" lengthAdjust="spacingAndGlyphs">120E</text>
<line x1="58.4" x2="58.4" y1="298.7" y2="300.9" stroke="#333" stroke-width="0.8"/>
<text x="58.4" y="307.5" font-size="6.6" text-anchor="middle">0</text>
<line x1="175.5" x2="175.5" y1="298.7" y2="300.9" stroke="#333" stroke-width="0.8"/>
<text x="175.5" y="307.5" font-size="6.6" text-anchor="middle">20</text>
<line x1="292.6" x2="292.6" y1="298.7" y2="300.9" stroke="#333" stroke-width="0.8"/>
<text x="292.6" y="307.5" font-size="6.6" text-anchor="middle">40</text>
<line x1="409.7" x2="409.7" y1="298.7" y2="300.9" stroke="#333" stroke-width="0.8"/>
<text x="409.7" y="307.5" font-size="6.6" text-anchor="middle">60</text>
<line x1="526.8" x2="526.8" y1="298.7" y2="300.9" stroke="#333" stroke-width="0.8"/>
<text x="526.8" y="307.5" font-size="6.6" text-anchor="middle">80</text>
<text x="0.7" y="214.7" font-size="8.9" font-weight="bold">c</text>
<text transform="translate(13.4,256.7) rotate(-90)" font-size="9.5" text-anchor="middle" textLength="58.6" lengthAdjust="spacingAndGlyphs">Nino 3.4 SST</text>
<text transform="translate(24.3,257) rotate(-90)" font-size="9.5" text-anchor="middle" textLength="44.3" lengthAdjust="spacingAndGlyphs">ORDERED</text>
<rect x="648.1" y="214.7" width="9.6" height="6.2" fill="#7c0722"/>
<rect x="648.1" y="219.9" width="9.6" height="6.2" fill="#ab162a"/>
<rect x="648.1" y="225.2" width="9.6" height="6.2" fill="#c53e3d"/>
<rect x="648.1" y="230.4" width="9.6" height="6.2" fill="#db6b55"/>
<rect x="648.1" y="235.7" width="9.6" height="6.2" fill="#ee9677"/>
<rect x="648.1" y="240.9" width="9.6" height="6.2" fill="#f8bb9e"/>
<rect x="648.1" y="246.2" width="9.6" height="6.2" fill="#fddcc9"/>
<rect x="648.1" y="251.4" width="9.6" height="6.2" fill="#f9eee7"/>
<rect x="648.1" y="256.7" width="9.6" height="6.2" fill="#ecf2f5"/>
<rect x="648.1" y="261.9" width="9.6" height="6.2" fill="#d4e6f1"/>
<rect x="648.1" y="267.2" width="9.6" height="6.2" fill="#aed3e6"/>
<rect x="648.1" y="272.4" width="9.6" height="6.2" fill="#84bcd9"/>
<rect x="648.1" y="277.7" width="9.6" height="6.2" fill="#529dc8"/>
<rect x="648.1" y="282.9" width="9.6" height="6.2" fill="#3480b9"/>
<rect x="648.1" y="288.2" width="9.6" height="6.2" fill="#1f63a8"/>
<rect x="648.1" y="293.4" width="9.6" height="5.2" fill="#0e4179"/>
<polygon points="648.1,214.7 652.9,210.5 657.7,214.7" fill="#67001f"/>
<polygon points="648.1,298.7 652.9,302.9 657.7,298.7" fill="#053061"/>
<polygon points="648.1,214.7 652.9,210.5 657.7,214.7 657.7,298.7 652.9,302.9 648.1,298.7" fill="none" stroke="#444" stroke-width="0.6"/>
<line x1="657.7" x2="659.9" y1="214.7" y2="214.7" stroke="#333" stroke-width="0.8"/>
<text x="661.9" y="218.4" font-size="10.2" textLength="5.1" lengthAdjust="spacingAndGlyphs">4</text>
<line x1="657.7" x2="659.9" y1="235.7" y2="235.7" stroke="#333" stroke-width="0.8"/>
<text x="661.9" y="239.4" font-size="10.2" textLength="5.1" lengthAdjust="spacingAndGlyphs">2</text>
<line x1="657.7" x2="659.9" y1="256.7" y2="256.7" stroke="#333" stroke-width="0.8"/>
<text x="661.9" y="260.4" font-size="10.2" textLength="5.1" lengthAdjust="spacingAndGlyphs">0</text>
<line x1="657.7" x2="659.9" y1="277.7" y2="277.7" stroke="#333" stroke-width="0.8"/>
<text x="662.3" y="281.4" font-size="10.2" textLength="12.2" lengthAdjust="spacingAndGlyphs">−2</text>
<line x1="657.7" x2="659.9" y1="298.7" y2="298.7" stroke="#333" stroke-width="0.8"/>
<text x="662.3" y="302.4" font-size="10.2" textLength="12.2" lengthAdjust="spacingAndGlyphs">−4</text>
<text transform="translate(685.6,257.1) rotate(-90)" font-size="10.2" text-anchor="middle">C</text>
<g clip-path="url(#cp3)">
<rect x="58.4" y="319.4" width="583.6" height="84" fill="#f9eee7"/>
<polygon points="58.4,319.4 420.5,319.4 420.5,338.9 410.7,345.5 388.8,348.7 366.9,347.7 358.1,338.9 349.4,341.1 349.4,349.8 358.1,356.4 362.5,365.2 355.9,369.6 345,371.2 320,371.5 298.5,373.5 287.6,375.9 265.7,376.8 243.8,378.2 206,378.7 176.4,380.7 152.3,381.7 128.3,381.5 110.7,382.5 88.8,383.7 77.9,384.3 58.4,386" fill="#ecf2f5"/>
<polygon points="324.8,396 330,391.4 358.1,392.5 375.7,393.6 399.7,387.1 432.6,384.9 454.5,387.1 465.4,389.3 480,383.4 504,385.3 528,385.3 552,382.1 576,379.7 600,377.3 624,376.1 642,375.6 642,403.4 380,403.4 370,399 350,398.5 330,398" fill="#ecf2f5"/>
<polygon points="58.4,319.4 218.1,319.4 218.1,331 213.4,340.4 218.1,347.4 225.1,349.7 220.4,354.4 222.8,361.4 236.8,359 235.6,369.6 213.4,370.7 201.8,368.4 190.1,370.7 178.4,373.1 155,377.7 120,378.9 100,379.5 80,380 58.4,380.2" fill="#d4e6f1"/>
<polygon points="143.4,320.3 166.7,320.3 165.5,328.7 157.4,333.4 155,338 148,333.4 143.4,326.3" fill="#ecf2f5"/>
<polygon points="180.7,320.3 201.8,320.3 200.6,331 194.7,335.7 187.7,333.4 181.9,328.7" fill="#ecf2f5"/>
<polygon points="309.5,322 320,320.5 333.6,321.4 330,327 318,333.4 311,330" fill="#d4e6f1"/>
<polygon points="58.4,319.4 88,319.4 88,321.3 83.7,324.5 77.3,326.6 79.5,329.8 88,330.9 91.2,338.3 95.5,339.4 100.8,336.2 101.9,339.4 107.2,340.5 112.5,338.3 117.9,336.2 124.3,336.2 129.6,340.5 130.7,346.9 132.8,351.1 136,353.3 138.7,356.7 148,359 145.7,362.5 134,364.9 128,365.6 120,366.5 113,368.2 100,372 77.3,376.7 58.4,378.9" fill="#aed3e6"/>
<polygon points="71,326.5 73.5,326.5 73.5,329 71,329" fill="#d4e6f1"/>
<polygon points="58.4,335.1 66.7,335.1 73.1,337.3 77.3,340.5 78.4,346.9 83.7,351.1 84.8,357.5 82.7,362.9 75.2,368.2 66.7,372 58.4,373.5" fill="#84bcd9"/>
<polygon points="537.5,319.4 537.5,320.4 535.3,335.1 517.2,337.4 503.6,335.1 503.6,346.4 494.5,348.7 490,353.2 487.3,358.6 476.4,360.8 467.6,364.1 461,371.7 461,376.1 476.4,377.2 480,376.1 504,378.5 528,378.5 552,375.6 576,373.2 600,371.3 624,370.1 642,369.4 642,319.4" fill="#fddcc9"/>
<polygon points="485,321.4 490.6,321.4 490,324.7 486,324.7" fill="#fddcc9"/>
<polygon points="74.1,396.5 78,394.9 84.8,396 82,399.1 76,399" fill="#fddcc9"/>
<polygon points="89,395.5 93.3,395.5 93,398.5 89.5,398.5" fill="#fddcc9"/>
<polygon points="95.5,396 97.6,396 97.6,398 95.5,398" fill="#fddcc9"/>
<polygon points="585,319.4 585,338 576.3,343.6 571.5,349.6 569.1,356.9 566.9,362.3 562,365.3 576,368.9 600,368.9 642,367.7 642,319.4" fill="#f8bb9e"/>
<polygon points="548.8,322 556,321 564.7,322.5 560,326 552,325.5" fill="#f8bb9e"/>
<polygon points="605.4,319.4 605.4,359.3 609.9,364.1 642,364.1 642,319.4" fill="#ee9677"/>
<polygon points="619,330.6 625.8,323.8 642,322.7 642,361.7 634.1,360.5 624.5,356.9 620.9,349.6 619,339.6" fill="#db6b55"/>
<polygon points="628,332.8 634.8,327.2 642,326 642,354.3 634.8,350.9 628,344.2" fill="#c53e3d"/>
<polygon points="639.4,331 642,330.6 642,338.5 639.4,337" fill="#ab162a"/>
<polygon points="606.4,385 609,383.4 612.5,385.5 610,388.2 607,387.5" fill="#d4e6f1"/>
<polygon points="617.3,386 622,382.9 630,383 634.1,386 630,391.8 620,391" fill="#d4e6f1"/>
<polygon points="637.8,388 641.4,387 642,390.6 638,390.6" fill="#d4e6f1"/>
<polyline points="58.4,385.5 77.9,383.8 88.8,383.2 110.7,382 128.3,381 152.3,381.2 176.4,380.2 206,378.2 243.8,377.7 265.7,376.3 287.6,375.4 320.4,373.9 350,373 388.8,371.4 443.5,370.3 495,368.3 512.6,368 528.2,366.2 552.3,364 569.2,363 585,362.3 595.7,360.8 604.2,359.4 607.4,357.6 613.8,356.2 617,354.6 622.3,350.4 627.6,347.2 635.1,344 638.3,342.9 641.5,340.3 643,338.9" fill="none" stroke="#2a2a2a" stroke-width="0.9" stroke-linejoin="round"/>
</g>
<rect x="58.4" y="319.4" width="583.6" height="84" fill="none" stroke="#555" stroke-width="0.9"/>
<line x1="55.6" x2="58.4" y1="319.4" y2="319.4" stroke="#333" stroke-width="0.8"/>
<text x="54.4" y="323" font-size="9.9" text-anchor="end" textLength="20.4" lengthAdjust="spacingAndGlyphs">80W</text>
<line x1="55.6" x2="58.4" y1="340.4" y2="340.4" stroke="#333" stroke-width="0.8"/>
<text x="54.4" y="344" font-size="9.9" text-anchor="end" textLength="25.7" lengthAdjust="spacingAndGlyphs">120W</text>
<line x1="55.6" x2="58.4" y1="361.4" y2="361.4" stroke="#333" stroke-width="0.8"/>
<text x="54.4" y="365" font-size="9.9" text-anchor="end" textLength="25.7" lengthAdjust="spacingAndGlyphs">160W</text>
<line x1="55.6" x2="58.4" y1="382.4" y2="382.4" stroke="#333" stroke-width="0.8"/>
<text x="54.4" y="386" font-size="9.9" text-anchor="end" textLength="22.5" lengthAdjust="spacingAndGlyphs">160E</text>
<line x1="55.6" x2="58.4" y1="403.4" y2="403.4" stroke="#333" stroke-width="0.8"/>
<text x="54.4" y="407" font-size="9.9" text-anchor="end" textLength="22.5" lengthAdjust="spacingAndGlyphs">120E</text>
<line x1="58.4" x2="58.4" y1="403.4" y2="405.6" stroke="#333" stroke-width="0.8"/>
<text x="58.4" y="412.2" font-size="6.6" text-anchor="middle">0</text>
<line x1="175.5" x2="175.5" y1="403.4" y2="405.6" stroke="#333" stroke-width="0.8"/>
<text x="175.5" y="412.2" font-size="6.6" text-anchor="middle">20</text>
<line x1="292.6" x2="292.6" y1="403.4" y2="405.6" stroke="#333" stroke-width="0.8"/>
<text x="292.6" y="412.2" font-size="6.6" text-anchor="middle">40</text>
<line x1="409.7" x2="409.7" y1="403.4" y2="405.6" stroke="#333" stroke-width="0.8"/>
<text x="409.7" y="412.2" font-size="6.6" text-anchor="middle">60</text>
<line x1="526.8" x2="526.8" y1="403.4" y2="405.6" stroke="#333" stroke-width="0.8"/>
<text x="526.8" y="412.2" font-size="6.6" text-anchor="middle">80</text>
<text x="0.7" y="319.4" font-size="8.9" font-weight="bold">d</text>
<text transform="translate(13.4,361.4) rotate(-90)" font-size="9.5" text-anchor="middle" textLength="58.6" lengthAdjust="spacingAndGlyphs">Nino 3.4 SST</text>
<text transform="translate(24.3,361.7) rotate(-90)" font-size="9.5" text-anchor="middle" textLength="51.6" lengthAdjust="spacingAndGlyphs">SMOOTHED</text>
<rect x="648.1" y="319.4" width="9.6" height="6.2" fill="#7c0722"/>
<rect x="648.1" y="324.6" width="9.6" height="6.2" fill="#ab162a"/>
<rect x="648.1" y="329.9" width="9.6" height="6.2" fill="#c53e3d"/>
<rect x="648.1" y="335.1" width="9.6" height="6.2" fill="#db6b55"/>
<rect x="648.1" y="340.4" width="9.6" height="6.2" fill="#ee9677"/>
<rect x="648.1" y="345.6" width="9.6" height="6.2" fill="#f8bb9e"/>
<rect x="648.1" y="350.9" width="9.6" height="6.2" fill="#fddcc9"/>
<rect x="648.1" y="356.1" width="9.6" height="6.2" fill="#f9eee7"/>
<rect x="648.1" y="361.4" width="9.6" height="6.2" fill="#ecf2f5"/>
<rect x="648.1" y="366.6" width="9.6" height="6.2" fill="#d4e6f1"/>
<rect x="648.1" y="371.9" width="9.6" height="6.2" fill="#aed3e6"/>
<rect x="648.1" y="377.1" width="9.6" height="6.2" fill="#84bcd9"/>
<rect x="648.1" y="382.4" width="9.6" height="6.2" fill="#529dc8"/>
<rect x="648.1" y="387.6" width="9.6" height="6.2" fill="#3480b9"/>
<rect x="648.1" y="392.9" width="9.6" height="6.2" fill="#1f63a8"/>
<rect x="648.1" y="398.1" width="9.6" height="5.2" fill="#0e4179"/>
<polygon points="648.1,319.4 652.9,315.2 657.7,319.4" fill="#67001f"/>
<polygon points="648.1,403.4 652.9,407.6 657.7,403.4" fill="#053061"/>
<polygon points="648.1,319.4 652.9,315.2 657.7,319.4 657.7,403.4 652.9,407.6 648.1,403.4" fill="none" stroke="#444" stroke-width="0.6"/>
<line x1="657.7" x2="659.9" y1="319.4" y2="319.4" stroke="#333" stroke-width="0.8"/>
<text x="661.9" y="323.1" font-size="10.2" textLength="5.1" lengthAdjust="spacingAndGlyphs">4</text>
<line x1="657.7" x2="659.9" y1="340.4" y2="340.4" stroke="#333" stroke-width="0.8"/>
<text x="661.9" y="344.1" font-size="10.2" textLength="5.1" lengthAdjust="spacingAndGlyphs">2</text>
<line x1="657.7" x2="659.9" y1="361.4" y2="361.4" stroke="#333" stroke-width="0.8"/>
<text x="661.9" y="365.1" font-size="10.2" textLength="5.1" lengthAdjust="spacingAndGlyphs">0</text>
<line x1="657.7" x2="659.9" y1="382.4" y2="382.4" stroke="#333" stroke-width="0.8"/>
<text x="662.3" y="386.1" font-size="10.2" textLength="12.2" lengthAdjust="spacingAndGlyphs">−2</text>
<line x1="657.7" x2="659.9" y1="403.4" y2="403.4" stroke="#333" stroke-width="0.8"/>
<text x="662.3" y="407.1" font-size="10.2" textLength="12.2" lengthAdjust="spacingAndGlyphs">−4</text>
<text transform="translate(685.6,361.8) rotate(-90)" font-size="10.2" text-anchor="middle">C</text>
</svg></body></html>
